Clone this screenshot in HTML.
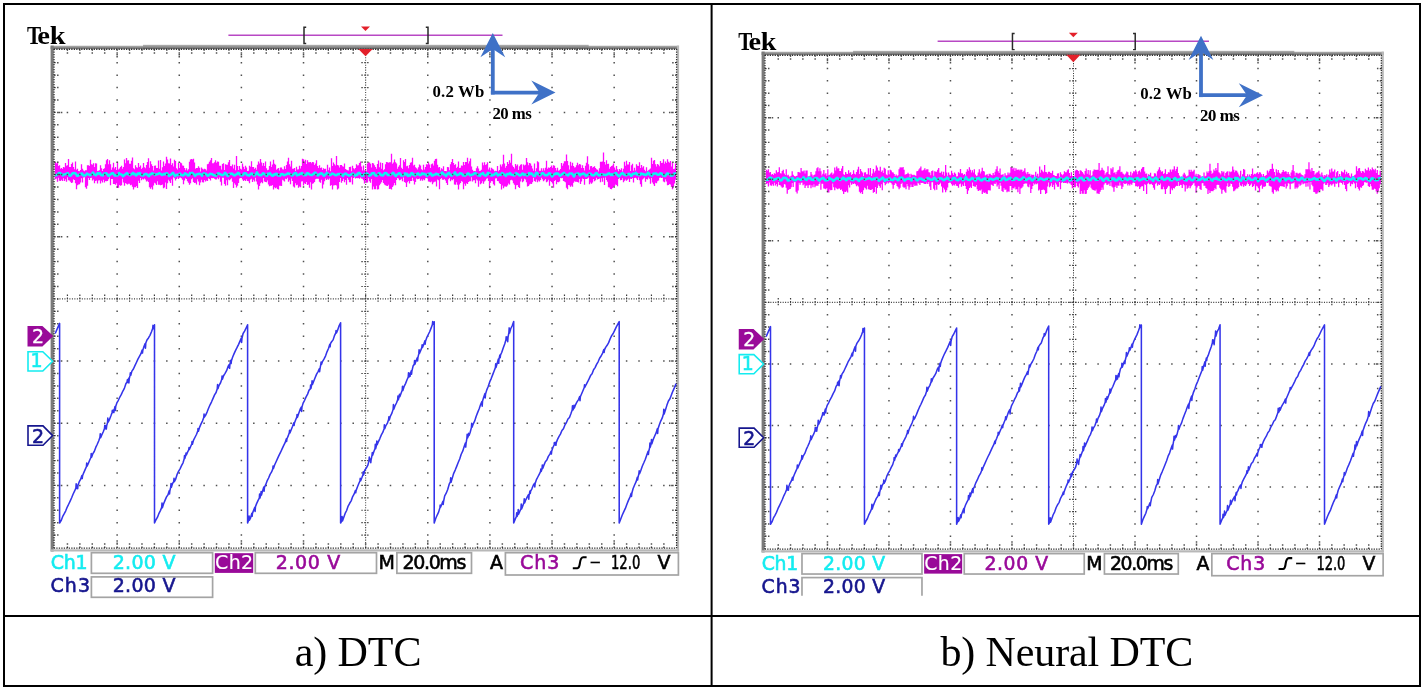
<!DOCTYPE html>
<html><head><meta charset="utf-8"><title>DTC vs Neural DTC oscilloscope traces</title>
<style>
html,body{margin:0;padding:0;background:#fff;}
body{width:1423px;height:690px;overflow:hidden;position:relative;}
svg{position:absolute;left:0;top:0;display:block;}
</style></head><body>
<svg width="1423" height="690" viewBox="0 0 1423 690">
<defs>
<linearGradient id="gt" x1="0" y1="0" x2="0" y2="1"><stop offset="0" stop-color="#b4b4b4"/><stop offset="1" stop-color="#666"/></linearGradient>
<clipPath id="cl"><rect x="5" y="5" width="705" height="610"/></clipPath>
<clipPath id="cr"><rect x="-2" y="-2" width="712" height="597.2"/></clipPath>
</defs>
<rect width="1423" height="690" fill="#fff"/>
<g clip-path="url(#cl)">
<text y="43.7" font-family="'Liberation Serif', 'Times New Roman', serif" font-weight="bold" font-size="25.6" fill="#000"><tspan x="27" textLength="14.2" lengthAdjust="spacingAndGlyphs">T</tspan><tspan x="37.3" textLength="12.7" lengthAdjust="spacingAndGlyphs">e</tspan><tspan x="49.7" textLength="15.8" lengthAdjust="spacingAndGlyphs">k</tspan></text>
<path d="M228.4 35.2H502.5" stroke="#b848c4" stroke-width="1.6"/>
<path d="M306.2 27.2H304V43.6H306.2M425.8 27.2H428V43.6H425.8" stroke="#2a2a2a" stroke-width="1.5" fill="none"/>
<path d="M361 26.6H370L365.5 31Z" fill="#e3202a"/>
<rect x="50.6" y="45.7" width="628.4" height="3.2" fill="url(#gt)"/>
<rect x="143" y="44.8" width="445.7" height="4.1" fill="url(#gt)"/>
<rect x="50.6" y="45.6" width="3.1" height="505.9" fill="#7a7a7a"/>
<rect x="676.9" y="45.6" width="2.2" height="505.9" fill="#b8b8b8"/>
<rect x="50.6" y="549.3" width="628.5" height="2.2" fill="#b8b8b8"/>
<path d="M55.5 162.18V179.28M56.5 163.59V178.46M57.5 161.64V181.82M58.5 165.89V177.78M59.5 165.31V180.65M60.5 168.74V181M61.5 167.92V179.68M62.5 168.93V181.12M63.5 166.89V178.16M64.5 167.48V180.92M65.5 163.08V179.26M66.5 165.79V181.74M67.5 165.2V177.36M68.5 158.99V180.29M69.5 166.88V180.48M70.5 167.07V181.87M71.5 163.89V183.06M72.5 162.4V182.61M73.5 167.04V179.34M74.5 169.22V179.91M75.5 161.47V183.17M76.5 169.66V189.2M77.5 168.75V185.35M78.5 171.06V184.62M79.5 171.14V184.3M80.5 169.96V182.59M81.5 164.37V178.25M82.5 168.74V182.47M83.5 170.51V177.46M84.5 171.35V177.32M85.5 170.21V187.13M86.5 170.19V188.85M87.5 165.29V185.8M88.5 165.37V177.96M89.5 166.05V179.99M90.5 159.85V178.08M91.5 164.32V177.73M92.5 164.68V180.6M93.5 163.26V179.47M94.5 167V183.3M95.5 163.35V181.08M96.5 163.39V180.47M97.5 171.1V183.4M98.5 170.72V180.61M99.5 170.19V180.2M100.5 165.28V183.52M101.5 168.34V180.68M102.5 171V182.55M103.5 168.93V179.64M104.5 168.33V182.57M105.5 164.29V180.99M106.5 160.28V181.21M107.5 158.91V181M108.5 164.14V179.34M109.5 160.25V177.6M110.5 164.3V185.13M111.5 169.84V178.97M112.5 167.52V179.08M113.5 162.64V183.96M114.5 168.52V184.02M115.5 166.93V184.73M116.5 169.95V183.27M117.5 161.79V187.91M118.5 169.53V187.8M119.5 168.6V184.89M120.5 167.1V185.73M121.5 165.69V185.28M122.5 168.68V178.79M123.5 166.99V182.49M124.5 159.39V185.7M125.5 163.26V182.96M126.5 158.09V183.8M127.5 160.59V184.57M128.5 160.22V183.77M129.5 163.83V183.78M130.5 163.79V185.34M131.5 160.75V184.71M132.5 157.42V186.75M133.5 168.17V189.4M134.5 169.19V187.24M135.5 165.33V187.31M136.5 167.3V186.05M137.5 167.85V187.98M138.5 163V180.71M139.5 166.93V182.97M140.5 165.54V177.92M141.5 168.96V180.15M142.5 167.79V178.87M143.5 162.92V179.44M144.5 167.32V178.61M145.5 168.31V179.59M146.5 165.08V181.56M147.5 161.99V180.64M148.5 158.27V181.93M149.5 167.65V187.19M150.5 161.3V188.71M151.5 164.22V187.36M152.5 165.98V189.4M153.5 170.51V185.53M154.5 165.86V182.81M155.5 165.41V183.54M156.5 168V184.98M157.5 167.99V181.13M158.5 160.41V184.7M159.5 168.84V184.82M160.5 159.88V185.28M161.5 170.41V185.06M162.5 167.18V184.51M163.5 161.44V188.27M164.5 165.92V187.45M165.5 163.44V182.47M166.5 156.67V189.06M167.5 159.43V183.3M168.5 163.32V179.83M169.5 163.45V181.25M170.5 158.42V183M171.5 165.04V179.51M172.5 163.26V185.66M173.5 166.6V177.28M174.5 159.78V178.3M175.5 160.9V180.58M176.5 168.29V179.09M177.5 169.5V177.62M178.5 162.94V178.93M179.5 167.97V177.77M180.5 162.39V177.57M181.5 163.31V178.34M182.5 165.38V179.81M183.5 165.71V184.23M184.5 167.92V180.45M185.5 170.28V178.29M186.5 168.32V179.01M187.5 170.62V181.3M188.5 169.37V182.67M189.5 161.7V184.69M190.5 159.46V183.21M191.5 158.89V179.32M192.5 159.59V178.18M193.5 158.76V181.99M194.5 162.41V183.01M195.5 168.78V182.72M196.5 167.97V184.6M197.5 167.91V179.28M198.5 166.2V181.59M199.5 167.82V185.17M200.5 171.53V182.53M201.5 167.6V179.78M202.5 168.82V182.28M203.5 169.5V182.45M204.5 168.69V179.96M205.5 169.35V181.45M206.5 170.42V180.57M207.5 164.2V181.11M208.5 163.78V178.18M209.5 161.86V178.92M210.5 160.19V180.45M211.5 158.07V178.04M212.5 163.37V178.37M213.5 163.18V178.08M214.5 162.19V178.83M215.5 160.28V179.44M216.5 162.76V179.39M217.5 161.56V177.71M218.5 161.75V179.31M219.5 165.65V177.39M220.5 165.79V181.78M221.5 169.47V185.39M222.5 163.9V177.68M223.5 163.31V177.67M224.5 169.96V184.11M225.5 164.19V185.67M226.5 164.87V180.34M227.5 164.83V185.23M228.5 162.26V179.56M229.5 159.96V180.24M230.5 166.01V179.3M231.5 166.23V178.17M232.5 164.55V181.87M233.5 168.55V187.92M234.5 164.76V183.15M235.5 170.17V184.84M236.5 156.08V187.57M237.5 165.98V185.73M238.5 170.12V182.91M239.5 165.93V178.43M240.5 168.7V177.93M241.5 169.44V177.96M242.5 163.59V179.56M243.5 166.73V181.06M244.5 168.93V180.11M245.5 165.85V180.93M246.5 167.53V179.33M247.5 170.93V181.1M248.5 170.68V181.31M249.5 165.66V183.19M250.5 166.8V179.52M251.5 161.22V178.82M252.5 166.92V182.08M253.5 166.95V179.77M254.5 168.93V181.46M255.5 167.68V177.82M256.5 169.87V181.46M257.5 164.87V184.47M258.5 161.55V189.4M259.5 163.52V185.93M260.5 158.98V183.32M261.5 162.38V182.12M262.5 165.75V183.36M263.5 163.01V177.89M264.5 165.9V181.44M265.5 161.5V181.94M266.5 168.37V182.14M267.5 170.3V180.46M268.5 169.67V184.52M269.5 165.91V186.31M270.5 161.52V185.66M271.5 167.06V185.84M272.5 164.38V184.92M273.5 159.83V189.4M274.5 163.78V187.15M275.5 164.69V188.3M276.5 169.75V187.59M277.5 168.72V188.99M278.5 168.12V189.4M279.5 170.4V185.73M280.5 167.51V185.71M281.5 167.59V185.95M282.5 169.18V179.87M283.5 169.58V180.42M284.5 166.32V181.45M285.5 168.93V178.85M286.5 164.91V179.35M287.5 161.46V177.79M288.5 157.84V181.74M289.5 164.19V180.19M290.5 166.57V184.3M291.5 160.71V178.39M292.5 168.7V181.05M293.5 168.82V186.38M294.5 167.97V187.54M295.5 171V183.28M296.5 166.82V185.15M297.5 169.57V184.77M298.5 169.33V187.68M299.5 165.8V186.55M300.5 168.56V187.23M301.5 166V181.43M302.5 158.8V181.27M303.5 159.33V185.52M304.5 161.47V183.36M305.5 159.79V183.93M306.5 163.96V182.07M307.5 160.2V185M308.5 162.34V184.51M309.5 162.16V187.7M310.5 162.07V182.15M311.5 163.31V189.4M312.5 161.95V183.87M313.5 162.3V183.16M314.5 165.06V181.93M315.5 163.56V179.35M316.5 160.2V178.75M317.5 165.98V178.76M318.5 167.95V178.77M319.5 165.33V181.74M320.5 167.9V182.67M321.5 167.52V179.87M322.5 169.9V188.4M323.5 168.36V184.5M324.5 169.12V181.36M325.5 168.81V178.56M326.5 171.56V179.94M327.5 164.81V178.75M328.5 170.16V179.63M329.5 167.46V178.48M330.5 171.14V185.83M331.5 158.2V184.98M332.5 166.11V189.4M333.5 162.4V185.52M334.5 164.14V185.19M335.5 165.5V184.99M336.5 156.12V185.53M337.5 165.08V189.4M338.5 165.4V188.51M339.5 167.38V181.98M340.5 164.91V177.89M341.5 164.91V182.71M342.5 166.33V181.01M343.5 166.74V178.67M344.5 163.6V182.25M345.5 168.99V179.97M346.5 169.85V184.78M347.5 170.35V178.04M348.5 170.41V179.74M349.5 167.02V182.18M350.5 166.7V182.22M351.5 171.29V177.31M352.5 165.66V184.53M353.5 168.24V178.11M354.5 169.32V177.28M355.5 167.98V178.44M356.5 164.29V177.96M357.5 165.43V178.28M358.5 165.36V178.09M359.5 163.05V178.73M360.5 161.49V177.55M361.5 166.47V178.56M362.5 170.44V178.77M363.5 165.5V180.22M364.5 170.44V183.53M365.5 170.29V180.7M366.5 171.14V182.69M367.5 163.5V182.51M368.5 162.33V178.32M369.5 162.45V181.3M370.5 163.87V182.75M371.5 167.39V178.95M372.5 163.01V189.4M373.5 163.59V186.53M374.5 165.19V189.18M375.5 167.09V189.28M376.5 168.85V185.74M377.5 163.92V189.4M378.5 160.62V189.15M379.5 167.35V185.27M380.5 162.46V183.74M381.5 168.71V182.21M382.5 162.96V179.95M383.5 170.26V183.1M384.5 169.31V184.55M385.5 164.27V185.3M386.5 161.99V185.75M387.5 162.19V186.11M388.5 162.7V184.87M389.5 162.23V189M390.5 162.27V188.86M391.5 153.67V189.4M392.5 163.83V187.07M393.5 162.45V185.48M394.5 159.55V182.95M395.5 162.33V185.2M396.5 163.51V179.9M397.5 168.67V178.11M398.5 166.66V178.45M399.5 165.15V180.37M400.5 157.9V179.87M401.5 167.64V178.82M402.5 169.08V181.35M403.5 160.29V177.54M404.5 161.91V181.97M405.5 159.07V182.82M406.5 166.36V187.12M407.5 165.65V182.24M408.5 168.14V180.9M409.5 164.88V183.46M410.5 162.81V180.92M411.5 162.17V180.99M412.5 157.73V177.81M413.5 165.52V180.73M414.5 164.71V184.48M415.5 167.25V182.09M416.5 168.17V178.43M417.5 169.47V179.28M418.5 167.19V179.09M419.5 164.47V178.48M420.5 165.57V180.79M421.5 169.18V179.34M422.5 170.15V180.77M423.5 164.79V179.18M424.5 169.61V180.14M425.5 166.92V178.19M426.5 164.31V177.88M427.5 164.4V178.42M428.5 162.41V181.54M429.5 164.57V181.71M430.5 168.08V182.17M431.5 164.19V181.45M432.5 163.38V184.3M433.5 165.53V182.52M434.5 160.84V181.71M435.5 159.11V181.48M436.5 158.76V186.46M437.5 164.68V179.58M438.5 167.47V180.15M439.5 166.99V189.35M440.5 170.54V179M441.5 168.13V177.95M442.5 169.19V179.69M443.5 166.19V179.66M444.5 170.97V179.1M445.5 171V180.46M446.5 171.15V183.01M447.5 166.93V185.04M448.5 167.2V179.2M449.5 170.13V178.09M450.5 164.24V181.17M451.5 162.07V179.52M452.5 159.05V180.3M453.5 163.03V178.91M454.5 165.01V184.53M455.5 164.18V184.76M456.5 167.89V182.17M457.5 166.78V184.69M458.5 161.49V189.4M459.5 168.04V184.46M460.5 167.82V182.91M461.5 165.54V181.05M462.5 165.8V181.66M463.5 162.03V189.34M464.5 164.97V183.83M465.5 161.97V185.66M466.5 161.92V183.26M467.5 157.83V183.89M468.5 163.44V182.03M469.5 161.28V181.19M470.5 158.51V181.3M471.5 166.48V177.37M472.5 169.75V181.44M473.5 171.34V180.17M474.5 170.92V180.37M475.5 171.35V183.26M476.5 168.31V179.35M477.5 166.28V180.53M478.5 168.5V186.8M479.5 170.92V180.66M480.5 170.85V184.15M481.5 169.81V183.19M482.5 162.39V181.2M483.5 165.32V183.66M484.5 162.23V181.57M485.5 164.99V180.4M486.5 164.21V178.83M487.5 162.22V178.18M488.5 169.59V181.08M489.5 167.47V188.27M490.5 170.42V182.82M491.5 167.84V181.07M492.5 168.74V181.25M493.5 169.42V184.3M494.5 171.28V185.44M495.5 170.73V178.56M496.5 170.89V178.35M497.5 165.9V181.09M498.5 171.13V181.15M499.5 169.89V183.32M500.5 164.62V184.01M501.5 166.39V189.4M502.5 164.14V185.55M503.5 154.65V188.31M504.5 163.61V186.54M505.5 167.79V186.49M506.5 166.03V186.74M507.5 162.04V185.49M508.5 164.04V183.43M509.5 160.14V184.59M510.5 162.8V180.29M511.5 153.66V179.74M512.5 165.58V180.46M513.5 166.91V183.16M514.5 168.39V184.76M515.5 164.02V189.25M516.5 165.79V185.29M517.5 164.53V184.94M518.5 170.09V186.93M519.5 166.36V188.05M520.5 164.87V181.62M521.5 164.22V178.66M522.5 169.68V182.32M523.5 164.43V181.24M524.5 165.41V178.73M525.5 164.65V179.4M526.5 157.97V182.17M527.5 162.32V186.59M528.5 165.36V185.89M529.5 163.12V184.6M530.5 163.62V183.63M531.5 165.83V183.9M532.5 168.48V182.35M533.5 170.68V177.81M534.5 163.53V180.9M535.5 171.28V181.66M536.5 168.17V179.57M537.5 161.29V182.21M538.5 162.37V180.55M539.5 170.82V181.47M540.5 170.76V179.89M541.5 168.25V177.83M542.5 170.87V179.26M543.5 168.37V181.29M544.5 170.45V180.14M545.5 167.63V178.91M546.5 160.68V182.34M547.5 168.73V181.45M548.5 167.42V179.7M549.5 168.1V185.81M550.5 166.89V181.08M551.5 165.54V181.93M552.5 167.85V183.54M553.5 165.35V187.63M554.5 165.71V180.99M555.5 168.02V180.07M556.5 170.56V184.24M557.5 167.76V182.11M558.5 170.75V182.2M559.5 170.17V181.5M560.5 169.06V177.92M561.5 163.1V178.32M562.5 165.68V177.91M563.5 163.53V181.07M564.5 161.3V181.61M565.5 161.19V182.21M566.5 154.45V187.7M567.5 161.01V189.14M568.5 165.17V185.01M569.5 169.59V185.32M570.5 161.67V186.82M571.5 165.73V185.61M572.5 162.66V186.78M573.5 166.08V182.8M574.5 167.4V181.34M575.5 167.28V181.65M576.5 165.18V181.66M577.5 162.63V181.96M578.5 165.17V182.4M579.5 164.09V179.05M580.5 164.43V184M581.5 167.88V181.62M582.5 165.22V178.44M583.5 168.03V179.11M584.5 170.49V184.64M585.5 165.81V179.1M586.5 162.85V178.91M587.5 156.25V178.49M588.5 164.3V177.6M589.5 169.71V184.18M590.5 166.26V182.56M591.5 166.03V183.84M592.5 167.87V182.51M593.5 166.91V179.08M594.5 166.17V181.2M595.5 168.01V180.21M596.5 169.22V177.74M597.5 169.86V179.57M598.5 171.38V178.89M599.5 168.25V178.46M600.5 161.71V182.13M601.5 161.76V178.32M602.5 161.5V181.81M603.5 152.53V177.69M604.5 161.95V184.89M605.5 164.42V177.4M606.5 160.13V179.99M607.5 164.03V181.64M608.5 163.75V187.36M609.5 168.81V187.6M610.5 167.03V189.08M611.5 165.92V189.2M612.5 165.55V187.98M613.5 163.42V186.76M614.5 167.5V186.08M615.5 169.77V184.42M616.5 165.9V184.9M617.5 169.31V186.19M618.5 171.28V178.99M619.5 168.95V177.98M620.5 170.04V180.29M621.5 168.13V180.07M622.5 171.41V178.25M623.5 168.78V182.31M624.5 161.82V180.66M625.5 165.87V179.41M626.5 160.76V180.74M627.5 164.46V179.63M628.5 164.58V178.74M629.5 161.88V182.09M630.5 170.95V178.87M631.5 165.37V179.05M632.5 163.87V177.93M633.5 170.8V182.52M634.5 167.86V177.98M635.5 170.45V177.77M636.5 164.17V178.41M637.5 165.67V179.89M638.5 165.89V177.62M639.5 162.37V180.26M640.5 168.1V184.32M641.5 165.01V186.77M642.5 167.56V179.42M643.5 166.36V178.56M644.5 169.86V177.59M645.5 171.2V181.69M646.5 167.14V179M647.5 170.89V179.55M648.5 170.26V177.48M649.5 169.54V178.79M650.5 168.54V183.69M651.5 157.85V178.09M652.5 164.04V182.48M653.5 160.72V184.15M654.5 160.07V185.95M655.5 164.22V182.71M656.5 166.43V183.2M657.5 163.89V181.24M658.5 164.7V180.47M659.5 166.19V177.64M660.5 161V177.51M661.5 162.96V178.1M662.5 162.83V177.81M663.5 159.29V181.42M664.5 163.7V182.29M665.5 161.59V179.33M666.5 163.02V181.5M667.5 159.31V185.25M668.5 161.75V185.07M669.5 162.83V183.91M670.5 161.1V184.43M671.5 166.44V186.92M672.5 162.6V189.14M673.5 168.99V186.83M674.5 168.8V183.57M675.5 163.44V179.69" stroke="#ff08ff" stroke-width="1.3"/>
<path d="M55 174.99 56 175.15 57 174.96 58 173.72 59 173.1 60 172.94 61 173.65 62 174.64 63 175.45 64 174.48 65 174.37 66 173.97 67 173.46 68 173.21 69 175.23 70 175.82 71 175.37 72 173.82 73 172.93 74 173.33 75 173.07 76 174.02 77 175.75 78 175.71 79 175.04 80 174.22 81 173.78 82 173.43 83 175.38 84 175.49 85 175.53 86 174.85 87 173.53 88 174.1 89 174.59 90 175.26 91 174.83 92 173.87 93 172.55 94 174.03 95 174.85 96 175.26 97 173.9 98 172.99 99 173.62 100 173.1 101 175.07 102 175.13 103 175.43 104 173.79 105 173.46 106 173.22 107 173.74 108 175.49 109 175.89 110 174.69 111 174.2 112 173.29 113 173.12 114 174.6 115 175.69 116 175.29 117 175.57 118 175.03 119 172.96 120 174.1 121 174.43 122 174.95 123 176.22 124 175.28 125 174.69 126 173.7 127 173.09 128 174.11 129 174.57 130 175.27 131 174.48 132 173.88 133 172.81 134 174.24 135 174.07 136 175.53 137 174.74 138 173.37 139 173.71 140 173.08 141 175.11 142 175.25 143 175.62 144 174.75 145 173.92 146 173.82 147 174.37 148 175.49 149 176.14 150 174.26 151 174.37 152 173.2 153 173.61 154 174.01 155 175.05 156 174.49 157 174.2 158 173.95 159 173.28 160 173.53 161 174.19 162 175 163 174.62 164 173.89 165 174.53 166 173.42 167 173.22 168 174.78 169 176.04 170 175.16 171 174.69 172 173.43 173 172.75 174 174.18 175 176.21 176 175.06 177 174.72 178 175.26 179 174.07 180 173.56 181 175.06 182 175.07 183 175.48 184 174.91 185 173.26 186 173.89 187 174.48 188 175.59 189 175.26 190 173.05 191 173.46 192 172.78 193 173.56 194 174.41 195 175.87 196 175.01 197 174.15 198 173.95 199 173.72 200 174.05 201 174.37 202 175.74 203 174.29 204 173.2 205 173.81 206 173.86 207 175.3 208 175.79 209 174.96 210 173.73 211 174 212 173.88 213 175.04 214 175.07 215 175.59 216 175.73 217 174.35 218 173.37 219 173.39 220 174.15 221 174.68 222 175.13 223 175.27 224 174.11 225 172.78 226 173.64 227 175.42 228 175.99 229 174.39 230 173.8 231 173.71 232 173.5 233 174.55 234 175.25 235 175.49 236 174.49 237 174.18 238 172.84 239 173.38 240 174.81 241 175.35 242 175.45 243 175.02 244 173.46 245 173.09 246 173.43 247 174.97 248 175.25 249 175.65 250 174.58 251 173.63 252 173.44 253 174.66 254 175.49 255 175.13 256 173.96 257 172.35 258 174.15 259 174.96 260 175.16 261 175.38 262 174.57 263 173.24 264 173.7 265 174.3 266 175.6 267 175.83 268 173.62 269 173.91 270 173.15 271 174.62 272 175.49 273 175.83 274 174.38 275 174.71 276 173.56 277 173.93 278 175.56 279 174.87 280 175.9 281 174.23 282 173.94 283 174.3 284 175.23 285 174.89 286 174.48 287 174.01 288 173.23 289 173.77 290 174.06 291 174.93 292 175.61 293 175.08 294 173.8 295 172.91 296 173.03 297 175.43 298 174.98 299 174.8 300 173.82 301 173.8 302 173.12 303 174.43 304 175.31 305 174.93 306 175.08 307 173.17 308 173.25 309 173.97 310 174.74 311 174.98 312 175.14 313 174.29 314 173.62 315 172.5 316 173.31 317 175.16 318 175.44 319 174.56 320 173.92 321 173.23 322 173.37 323 174.88 324 175.79 325 174.97 326 173.84 327 172.83 328 173.93 329 174.53 330 175.17 331 174.61 332 173.49 333 173.82 334 174.18 335 175.14 336 175.35 337 174.8 338 174 339 174.17 340 173.82 341 174.25 342 174.83 343 176.05 344 174.25 345 173.69 346 173.53 347 174.6 348 174.88 349 175.7 350 175.33 351 174.57 352 173.97 353 173.52 354 174.6 355 175.79 356 174.81 357 174.99 358 173.3 359 172.8 360 173.54 361 174.52 362 175.87 363 175.53 364 174.47 365 174.09 366 173.33 367 173.51 368 174.05 369 175.73 370 175.52 371 174.96 372 173.25 373 173.18 374 172.94 375 175.01 376 175.69 377 175.59 378 174.15 379 173.3 380 173.39 381 175.26 382 175.23 383 175.45 384 174.11 385 172.91 386 172.88 387 174.06 388 175.3 389 174.92 390 175.1 391 174.47 392 173.61 393 172.68 394 173.43 395 175.51 396 176.07 397 174.68 398 174.01 399 173.21 400 173.42 401 175.39 402 175.25 403 175.58 404 174.66 405 173.26 406 174.46 407 173.8 408 175.83 409 175.26 410 175.62 411 173.57 412 172.95 413 174.69 414 174.53 415 175.64 416 174.2 417 174.43 418 173.29 419 174.45 420 175.26 421 174.9 422 173.32 423 174.15 424 173.77 425 174.19 426 175.23 427 175.91 428 173.8 429 174.44 430 173.25 431 173.63 432 175.62 433 175.54 434 174.8 435 174.57 436 173.62 437 174.14 438 174.29 439 175 440 175.21 441 173.68 442 172.43 443 173.38 444 174.59 445 174.79 446 176.06 447 174.51 448 173.47 449 172.79 450 174.38 451 175.41 452 175.46 453 174.16 454 173.95 455 172.36 456 174.4 457 175.28 458 174.76 459 174.54 460 173.22 461 173.49 462 173.78 463 175.42 464 175.08 465 175.77 466 174.56 467 174.51 468 173.24 469 173.77 470 175.33 471 175.28 472 174.67 473 174.52 474 173.65 475 173.01 476 173.36 477 174.3 478 175.45 479 174.86 480 175.79 481 173.89 482 173.74 483 173.02 484 174.8 485 175.39 486 175.74 487 174.7 488 172.8 489 173.85 490 173.43 491 175.38 492 175.41 493 174.81 494 174.95 495 173.68 496 172.89 497 173.84 498 175.5 499 174.8 500 174.6 501 175.01 502 173 503 173.55 504 174.41 505 175.3 506 175.9 507 174.05 508 174.07 509 174.16 510 172.95 511 174.51 512 174.8 513 174.94 514 175.54 515 174.97 516 173.14 517 173.62 518 174.07 519 175.07 520 175.53 521 175.09 522 173.81 523 173.48 524 174.96 525 174.39 526 174.62 527 175.67 528 174.77 529 173.18 530 174.09 531 173.25 532 173.82 533 175.45 534 175.77 535 175.95 536 172.89 537 172.79 538 173.89 539 174.71 540 175.45 541 174.61 542 173.16 543 173.12 544 174.09 545 175.14 546 175.2 547 175.18 548 174.41 549 173.23 550 173.39 551 174.58 552 176.49 553 175.56 554 174.48 555 174.17 556 173.2 557 173.91 558 173.54 559 174.87 560 175.76 561 175.07 562 174.22 563 173.75 564 172.87 565 174.3 566 174.64 567 174.91 568 175.51 569 174 570 173.41 571 173.61 572 173.62 573 175.15 574 176.52 575 174.71 576 174.04 577 173.66 578 173.38 579 174.07 580 175.48 581 174.1 582 174.31 583 173.62 584 173.62 585 174.51 586 175.9 587 175.22 588 174.89 589 173.7 590 173.55 591 174 592 175.23 593 175.14 594 175.46 595 174.44 596 173.02 597 173.29 598 174.69 599 175.48 600 175.2 601 174.14 602 174.19 603 174.53 604 174.74 605 175.21 606 174.83 607 174.67 608 173.71 609 173.35 610 174.14 611 175.1 612 174.34 613 175.09 614 174.14 615 173.35 616 172.98 617 174.52 618 175.33 619 176.33 620 175.35 621 174.03 622 173.32 623 173.22 624 174.69 625 174.84 626 175.39 627 174.95 628 174.13 629 173.77 630 174.28 631 175.81 632 175.35 633 173.67 634 173.82 635 173.34 636 172.8 637 174.51 638 174.19 639 175.17 640 175.01 641 173.49 642 173.91 643 174.05 644 174.81 645 174.59 646 175.14 647 174.15 648 172.65 649 173.52 650 174.97 651 175.02 652 175.66 653 174.13 654 173.42 655 173.64 656 173.37 657 174.37 658 174.85 659 174.69 660 173.48 661 173.26 662 173.81 663 175.42 664 175.17 665 176.15 666 175.05 667 173.6 668 173.57 669 174.11 670 174.86 671 175.67 672 175.41 673 175.36 674 173.76 675 173.4 676 173.66" stroke="#12f0f4" stroke-width="2.5" fill="none" stroke-linejoin="round"/>
<path d="M53.8 49.27H676.7M53.8 548.05H676.7" stroke="#2e2e2e" stroke-width="1.3" stroke-dasharray="1.3 1.19"/>
<path d="M54 49.07V548.05M676.6 49.07V548.05" stroke="#2e2e2e" stroke-width="1.3" stroke-dasharray="1.3 1.19"/>
<path d="M67.43 49.27v1.6M67.43 548.05v-1.6M79.85 49.27v1.6M79.85 548.05v-1.6M92.28 49.27v1.6M92.28 548.05v-1.6M104.7 49.27v1.6M104.7 548.05v-1.6M117.13 49.27v1.6M117.13 548.05v-1.6M129.56 49.27v1.6M129.56 548.05v-1.6M141.98 49.27v1.6M141.98 548.05v-1.6M154.41 49.27v1.6M154.41 548.05v-1.6M166.83 49.27v1.6M166.83 548.05v-1.6M179.26 49.27v1.6M179.26 548.05v-1.6M191.69 49.27v1.6M191.69 548.05v-1.6M204.11 49.27v1.6M204.11 548.05v-1.6M216.54 49.27v1.6M216.54 548.05v-1.6M228.96 49.27v1.6M228.96 548.05v-1.6M241.39 49.27v1.6M241.39 548.05v-1.6M253.82 49.27v1.6M253.82 548.05v-1.6M266.24 49.27v1.6M266.24 548.05v-1.6M278.67 49.27v1.6M278.67 548.05v-1.6M291.09 49.27v1.6M291.09 548.05v-1.6M303.52 49.27v1.6M303.52 548.05v-1.6M315.95 49.27v1.6M315.95 548.05v-1.6M328.37 49.27v1.6M328.37 548.05v-1.6M340.8 49.27v1.6M340.8 548.05v-1.6M353.22 49.27v1.6M353.22 548.05v-1.6M365.65 49.27v1.6M365.65 548.05v-1.6M378.08 49.27v1.6M378.08 548.05v-1.6M390.5 49.27v1.6M390.5 548.05v-1.6M402.93 49.27v1.6M402.93 548.05v-1.6M415.35 49.27v1.6M415.35 548.05v-1.6M427.78 49.27v1.6M427.78 548.05v-1.6M440.21 49.27v1.6M440.21 548.05v-1.6M452.63 49.27v1.6M452.63 548.05v-1.6M465.06 49.27v1.6M465.06 548.05v-1.6M477.48 49.27v1.6M477.48 548.05v-1.6M489.91 49.27v1.6M489.91 548.05v-1.6M502.34 49.27v1.6M502.34 548.05v-1.6M514.76 49.27v1.6M514.76 548.05v-1.6M527.19 49.27v1.6M527.19 548.05v-1.6M539.61 49.27v1.6M539.61 548.05v-1.6M552.04 49.27v1.6M552.04 548.05v-1.6M564.47 49.27v1.6M564.47 548.05v-1.6M576.89 49.27v1.6M576.89 548.05v-1.6M589.32 49.27v1.6M589.32 548.05v-1.6M601.74 49.27v1.6M601.74 548.05v-1.6M614.17 49.27v1.6M614.17 548.05v-1.6M626.6 49.27v1.6M626.6 548.05v-1.6M639.02 49.27v1.6M639.02 548.05v-1.6M651.45 49.27v1.6M651.45 548.05v-1.6M663.87 49.27v1.6M663.87 548.05v-1.6M54 62.7h1.6M676.6 62.7h-1.6M54 75.13h1.6M676.6 75.13h-1.6M54 87.57h1.6M676.6 87.57h-1.6M54 100h1.6M676.6 100h-1.6M54 112.43h1.6M676.6 112.43h-1.6M54 124.86h1.6M676.6 124.86h-1.6M54 137.29h1.6M676.6 137.29h-1.6M54 149.73h1.6M676.6 149.73h-1.6M54 162.16h1.6M676.6 162.16h-1.6M54 174.59h1.6M676.6 174.59h-1.6M54 187.02h1.6M676.6 187.02h-1.6M54 199.45h1.6M676.6 199.45h-1.6M54 211.89h1.6M676.6 211.89h-1.6M54 224.32h1.6M676.6 224.32h-1.6M54 236.75h1.6M676.6 236.75h-1.6M54 249.18h1.6M676.6 249.18h-1.6M54 261.61h1.6M676.6 261.61h-1.6M54 274.05h1.6M676.6 274.05h-1.6M54 286.48h1.6M676.6 286.48h-1.6M54 298.91h1.6M676.6 298.91h-1.6M54 311.34h1.6M676.6 311.34h-1.6M54 323.77h1.6M676.6 323.77h-1.6M54 336.21h1.6M676.6 336.21h-1.6M54 348.64h1.6M676.6 348.64h-1.6M54 361.07h1.6M676.6 361.07h-1.6M54 373.5h1.6M676.6 373.5h-1.6M54 385.93h1.6M676.6 385.93h-1.6M54 398.37h1.6M676.6 398.37h-1.6M54 410.8h1.6M676.6 410.8h-1.6M54 423.23h1.6M676.6 423.23h-1.6M54 435.66h1.6M676.6 435.66h-1.6M54 448.09h1.6M676.6 448.09h-1.6M54 460.53h1.6M676.6 460.53h-1.6M54 472.96h1.6M676.6 472.96h-1.6M54 485.39h1.6M676.6 485.39h-1.6M54 497.82h1.6M676.6 497.82h-1.6M54 510.25h1.6M676.6 510.25h-1.6M54 522.69h1.6M676.6 522.69h-1.6M54 535.12h1.6M676.6 535.12h-1.6" stroke="#2e2e2e" stroke-width="1.3"/>
<path d="M66.68 53.07h1.5M66.68 543.95h1.5M79.1 53.07h1.5M79.1 543.95h1.5M91.53 53.07h1.5M91.53 543.95h1.5M103.95 53.07h1.5M103.95 543.95h1.5M116.38 53.07h1.5M116.38 543.95h1.5M128.81 53.07h1.5M128.81 543.95h1.5M141.23 53.07h1.5M141.23 543.95h1.5M153.66 53.07h1.5M153.66 543.95h1.5M166.08 53.07h1.5M166.08 543.95h1.5M178.51 53.07h1.5M178.51 543.95h1.5M190.94 53.07h1.5M190.94 543.95h1.5M203.36 53.07h1.5M203.36 543.95h1.5M215.79 53.07h1.5M215.79 543.95h1.5M228.21 53.07h1.5M228.21 543.95h1.5M240.64 53.07h1.5M240.64 543.95h1.5M253.07 53.07h1.5M253.07 543.95h1.5M265.49 53.07h1.5M265.49 543.95h1.5M277.92 53.07h1.5M277.92 543.95h1.5M290.34 53.07h1.5M290.34 543.95h1.5M302.77 53.07h1.5M302.77 543.95h1.5M315.2 53.07h1.5M315.2 543.95h1.5M327.62 53.07h1.5M327.62 543.95h1.5M340.05 53.07h1.5M340.05 543.95h1.5M352.47 53.07h1.5M352.47 543.95h1.5M364.9 53.07h1.5M364.9 543.95h1.5M377.33 53.07h1.5M377.33 543.95h1.5M389.75 53.07h1.5M389.75 543.95h1.5M402.18 53.07h1.5M402.18 543.95h1.5M414.6 53.07h1.5M414.6 543.95h1.5M427.03 53.07h1.5M427.03 543.95h1.5M439.46 53.07h1.5M439.46 543.95h1.5M451.88 53.07h1.5M451.88 543.95h1.5M464.31 53.07h1.5M464.31 543.95h1.5M476.73 53.07h1.5M476.73 543.95h1.5M489.16 53.07h1.5M489.16 543.95h1.5M501.59 53.07h1.5M501.59 543.95h1.5M514.01 53.07h1.5M514.01 543.95h1.5M526.44 53.07h1.5M526.44 543.95h1.5M538.86 53.07h1.5M538.86 543.95h1.5M551.29 53.07h1.5M551.29 543.95h1.5M563.72 53.07h1.5M563.72 543.95h1.5M576.14 53.07h1.5M576.14 543.95h1.5M588.57 53.07h1.5M588.57 543.95h1.5M600.99 53.07h1.5M600.99 543.95h1.5M613.42 53.07h1.5M613.42 543.95h1.5M625.85 53.07h1.5M625.85 543.95h1.5M638.27 53.07h1.5M638.27 543.95h1.5M650.7 53.07h1.5M650.7 543.95h1.5M663.12 53.07h1.5M663.12 543.95h1.5M57.05 62.7h1.5M672.15 62.7h1.5M57.05 75.13h1.5M672.15 75.13h1.5M57.05 87.57h1.5M672.15 87.57h1.5M57.05 100h1.5M672.15 100h1.5M57.05 112.43h1.5M672.15 112.43h1.5M57.05 124.86h1.5M672.15 124.86h1.5M57.05 137.29h1.5M672.15 137.29h1.5M57.05 149.73h1.5M672.15 149.73h1.5M57.05 162.16h1.5M672.15 162.16h1.5M57.05 174.59h1.5M672.15 174.59h1.5M57.05 187.02h1.5M672.15 187.02h1.5M57.05 199.45h1.5M672.15 199.45h1.5M57.05 211.89h1.5M672.15 211.89h1.5M57.05 224.32h1.5M672.15 224.32h1.5M57.05 236.75h1.5M672.15 236.75h1.5M57.05 249.18h1.5M672.15 249.18h1.5M57.05 261.61h1.5M672.15 261.61h1.5M57.05 274.05h1.5M672.15 274.05h1.5M57.05 286.48h1.5M672.15 286.48h1.5M57.05 298.91h1.5M672.15 298.91h1.5M57.05 311.34h1.5M672.15 311.34h1.5M57.05 323.77h1.5M672.15 323.77h1.5M57.05 336.21h1.5M672.15 336.21h1.5M57.05 348.64h1.5M672.15 348.64h1.5M57.05 361.07h1.5M672.15 361.07h1.5M57.05 373.5h1.5M672.15 373.5h1.5M57.05 385.93h1.5M672.15 385.93h1.5M57.05 398.37h1.5M672.15 398.37h1.5M57.05 410.8h1.5M672.15 410.8h1.5M57.05 423.23h1.5M672.15 423.23h1.5M57.05 435.66h1.5M672.15 435.66h1.5M57.05 448.09h1.5M672.15 448.09h1.5M57.05 460.53h1.5M672.15 460.53h1.5M57.05 472.96h1.5M672.15 472.96h1.5M57.05 485.39h1.5M672.15 485.39h1.5M57.05 497.82h1.5M672.15 497.82h1.5M57.05 510.25h1.5M672.15 510.25h1.5M57.05 522.69h1.5M672.15 522.69h1.5M57.05 535.12h1.5M672.15 535.12h1.5M116.38 62.7h1.5M116.38 75.13h1.5M116.38 87.57h1.5M116.38 100h1.5M116.38 112.43h1.5M116.38 124.86h1.5M116.38 137.29h1.5M116.38 149.73h1.5M116.38 162.16h1.5M116.38 174.59h1.5M116.38 187.02h1.5M116.38 199.45h1.5M116.38 211.89h1.5M116.38 224.32h1.5M116.38 236.75h1.5M116.38 249.18h1.5M116.38 261.61h1.5M116.38 274.05h1.5M116.38 286.48h1.5M116.38 298.91h1.5M116.38 311.34h1.5M116.38 323.77h1.5M116.38 336.21h1.5M116.38 348.64h1.5M116.38 361.07h1.5M116.38 373.5h1.5M116.38 385.93h1.5M116.38 398.37h1.5M116.38 410.8h1.5M116.38 423.23h1.5M116.38 435.66h1.5M116.38 448.09h1.5M116.38 460.53h1.5M116.38 472.96h1.5M116.38 485.39h1.5M116.38 497.82h1.5M116.38 510.25h1.5M116.38 522.69h1.5M116.38 535.12h1.5M116.38 54.67h1.5M116.38 543.15h1.5M116.38 56.87h1.5M116.38 540.95h1.5M178.51 62.7h1.5M178.51 75.13h1.5M178.51 87.57h1.5M178.51 100h1.5M178.51 112.43h1.5M178.51 124.86h1.5M178.51 137.29h1.5M178.51 149.73h1.5M178.51 162.16h1.5M178.51 174.59h1.5M178.51 187.02h1.5M178.51 199.45h1.5M178.51 211.89h1.5M178.51 224.32h1.5M178.51 236.75h1.5M178.51 249.18h1.5M178.51 261.61h1.5M178.51 274.05h1.5M178.51 286.48h1.5M178.51 298.91h1.5M178.51 311.34h1.5M178.51 323.77h1.5M178.51 336.21h1.5M178.51 348.64h1.5M178.51 361.07h1.5M178.51 373.5h1.5M178.51 385.93h1.5M178.51 398.37h1.5M178.51 410.8h1.5M178.51 423.23h1.5M178.51 435.66h1.5M178.51 448.09h1.5M178.51 460.53h1.5M178.51 472.96h1.5M178.51 485.39h1.5M178.51 497.82h1.5M178.51 510.25h1.5M178.51 522.69h1.5M178.51 535.12h1.5M178.51 54.67h1.5M178.51 543.15h1.5M178.51 56.87h1.5M178.51 540.95h1.5M240.64 62.7h1.5M240.64 75.13h1.5M240.64 87.57h1.5M240.64 100h1.5M240.64 112.43h1.5M240.64 124.86h1.5M240.64 137.29h1.5M240.64 149.73h1.5M240.64 162.16h1.5M240.64 174.59h1.5M240.64 187.02h1.5M240.64 199.45h1.5M240.64 211.89h1.5M240.64 224.32h1.5M240.64 236.75h1.5M240.64 249.18h1.5M240.64 261.61h1.5M240.64 274.05h1.5M240.64 286.48h1.5M240.64 298.91h1.5M240.64 311.34h1.5M240.64 323.77h1.5M240.64 336.21h1.5M240.64 348.64h1.5M240.64 361.07h1.5M240.64 373.5h1.5M240.64 385.93h1.5M240.64 398.37h1.5M240.64 410.8h1.5M240.64 423.23h1.5M240.64 435.66h1.5M240.64 448.09h1.5M240.64 460.53h1.5M240.64 472.96h1.5M240.64 485.39h1.5M240.64 497.82h1.5M240.64 510.25h1.5M240.64 522.69h1.5M240.64 535.12h1.5M240.64 54.67h1.5M240.64 543.15h1.5M240.64 56.87h1.5M240.64 540.95h1.5M302.77 62.7h1.5M302.77 75.13h1.5M302.77 87.57h1.5M302.77 100h1.5M302.77 112.43h1.5M302.77 124.86h1.5M302.77 137.29h1.5M302.77 149.73h1.5M302.77 162.16h1.5M302.77 174.59h1.5M302.77 187.02h1.5M302.77 199.45h1.5M302.77 211.89h1.5M302.77 224.32h1.5M302.77 236.75h1.5M302.77 249.18h1.5M302.77 261.61h1.5M302.77 274.05h1.5M302.77 286.48h1.5M302.77 298.91h1.5M302.77 311.34h1.5M302.77 323.77h1.5M302.77 336.21h1.5M302.77 348.64h1.5M302.77 361.07h1.5M302.77 373.5h1.5M302.77 385.93h1.5M302.77 398.37h1.5M302.77 410.8h1.5M302.77 423.23h1.5M302.77 435.66h1.5M302.77 448.09h1.5M302.77 460.53h1.5M302.77 472.96h1.5M302.77 485.39h1.5M302.77 497.82h1.5M302.77 510.25h1.5M302.77 522.69h1.5M302.77 535.12h1.5M302.77 54.67h1.5M302.77 543.15h1.5M302.77 56.87h1.5M302.77 540.95h1.5M427.03 62.7h1.5M427.03 75.13h1.5M427.03 87.57h1.5M427.03 100h1.5M427.03 112.43h1.5M427.03 124.86h1.5M427.03 137.29h1.5M427.03 149.73h1.5M427.03 162.16h1.5M427.03 174.59h1.5M427.03 187.02h1.5M427.03 199.45h1.5M427.03 211.89h1.5M427.03 224.32h1.5M427.03 236.75h1.5M427.03 249.18h1.5M427.03 261.61h1.5M427.03 274.05h1.5M427.03 286.48h1.5M427.03 298.91h1.5M427.03 311.34h1.5M427.03 323.77h1.5M427.03 336.21h1.5M427.03 348.64h1.5M427.03 361.07h1.5M427.03 373.5h1.5M427.03 385.93h1.5M427.03 398.37h1.5M427.03 410.8h1.5M427.03 423.23h1.5M427.03 435.66h1.5M427.03 448.09h1.5M427.03 460.53h1.5M427.03 472.96h1.5M427.03 485.39h1.5M427.03 497.82h1.5M427.03 510.25h1.5M427.03 522.69h1.5M427.03 535.12h1.5M427.03 54.67h1.5M427.03 543.15h1.5M427.03 56.87h1.5M427.03 540.95h1.5M489.16 62.7h1.5M489.16 75.13h1.5M489.16 87.57h1.5M489.16 100h1.5M489.16 112.43h1.5M489.16 124.86h1.5M489.16 137.29h1.5M489.16 149.73h1.5M489.16 162.16h1.5M489.16 174.59h1.5M489.16 187.02h1.5M489.16 199.45h1.5M489.16 211.89h1.5M489.16 224.32h1.5M489.16 236.75h1.5M489.16 249.18h1.5M489.16 261.61h1.5M489.16 274.05h1.5M489.16 286.48h1.5M489.16 298.91h1.5M489.16 311.34h1.5M489.16 323.77h1.5M489.16 336.21h1.5M489.16 348.64h1.5M489.16 361.07h1.5M489.16 373.5h1.5M489.16 385.93h1.5M489.16 398.37h1.5M489.16 410.8h1.5M489.16 423.23h1.5M489.16 435.66h1.5M489.16 448.09h1.5M489.16 460.53h1.5M489.16 472.96h1.5M489.16 485.39h1.5M489.16 497.82h1.5M489.16 510.25h1.5M489.16 522.69h1.5M489.16 535.12h1.5M489.16 54.67h1.5M489.16 543.15h1.5M489.16 56.87h1.5M489.16 540.95h1.5M551.29 62.7h1.5M551.29 75.13h1.5M551.29 87.57h1.5M551.29 100h1.5M551.29 112.43h1.5M551.29 124.86h1.5M551.29 137.29h1.5M551.29 149.73h1.5M551.29 162.16h1.5M551.29 174.59h1.5M551.29 187.02h1.5M551.29 199.45h1.5M551.29 211.89h1.5M551.29 224.32h1.5M551.29 236.75h1.5M551.29 249.18h1.5M551.29 261.61h1.5M551.29 274.05h1.5M551.29 286.48h1.5M551.29 298.91h1.5M551.29 311.34h1.5M551.29 323.77h1.5M551.29 336.21h1.5M551.29 348.64h1.5M551.29 361.07h1.5M551.29 373.5h1.5M551.29 385.93h1.5M551.29 398.37h1.5M551.29 410.8h1.5M551.29 423.23h1.5M551.29 435.66h1.5M551.29 448.09h1.5M551.29 460.53h1.5M551.29 472.96h1.5M551.29 485.39h1.5M551.29 497.82h1.5M551.29 510.25h1.5M551.29 522.69h1.5M551.29 535.12h1.5M551.29 54.67h1.5M551.29 543.15h1.5M551.29 56.87h1.5M551.29 540.95h1.5M613.42 62.7h1.5M613.42 75.13h1.5M613.42 87.57h1.5M613.42 100h1.5M613.42 112.43h1.5M613.42 124.86h1.5M613.42 137.29h1.5M613.42 149.73h1.5M613.42 162.16h1.5M613.42 174.59h1.5M613.42 187.02h1.5M613.42 199.45h1.5M613.42 211.89h1.5M613.42 224.32h1.5M613.42 236.75h1.5M613.42 249.18h1.5M613.42 261.61h1.5M613.42 274.05h1.5M613.42 286.48h1.5M613.42 298.91h1.5M613.42 311.34h1.5M613.42 323.77h1.5M613.42 336.21h1.5M613.42 348.64h1.5M613.42 361.07h1.5M613.42 373.5h1.5M613.42 385.93h1.5M613.42 398.37h1.5M613.42 410.8h1.5M613.42 423.23h1.5M613.42 435.66h1.5M613.42 448.09h1.5M613.42 460.53h1.5M613.42 472.96h1.5M613.42 485.39h1.5M613.42 497.82h1.5M613.42 510.25h1.5M613.42 522.69h1.5M613.42 535.12h1.5M613.42 54.67h1.5M613.42 543.15h1.5M613.42 56.87h1.5M613.42 540.95h1.5M58.65 112.43h1.5M671.15 112.43h1.5M60.85 112.43h1.5M668.95 112.43h1.5M58.65 174.59h1.5M671.15 174.59h1.5M60.85 174.59h1.5M668.95 174.59h1.5M58.65 236.75h1.5M671.15 236.75h1.5M60.85 236.75h1.5M668.95 236.75h1.5M58.65 361.07h1.5M671.15 361.07h1.5M60.85 361.07h1.5M668.95 361.07h1.5M58.65 423.23h1.5M671.15 423.23h1.5M60.85 423.23h1.5M668.95 423.23h1.5M58.65 485.39h1.5M671.15 485.39h1.5M60.85 485.39h1.5M668.95 485.39h1.5M66.68 112.43h1.5M79.1 112.43h1.5M91.53 112.43h1.5M103.95 112.43h1.5M116.38 112.43h1.5M128.81 112.43h1.5M141.23 112.43h1.5M153.66 112.43h1.5M166.08 112.43h1.5M178.51 112.43h1.5M190.94 112.43h1.5M203.36 112.43h1.5M215.79 112.43h1.5M228.21 112.43h1.5M240.64 112.43h1.5M253.07 112.43h1.5M265.49 112.43h1.5M277.92 112.43h1.5M290.34 112.43h1.5M302.77 112.43h1.5M315.2 112.43h1.5M327.62 112.43h1.5M340.05 112.43h1.5M352.47 112.43h1.5M364.9 112.43h1.5M377.33 112.43h1.5M389.75 112.43h1.5M402.18 112.43h1.5M414.6 112.43h1.5M427.03 112.43h1.5M439.46 112.43h1.5M451.88 112.43h1.5M464.31 112.43h1.5M476.73 112.43h1.5M489.16 112.43h1.5M501.59 112.43h1.5M514.01 112.43h1.5M526.44 112.43h1.5M538.86 112.43h1.5M551.29 112.43h1.5M563.72 112.43h1.5M576.14 112.43h1.5M588.57 112.43h1.5M600.99 112.43h1.5M613.42 112.43h1.5M625.85 112.43h1.5M638.27 112.43h1.5M650.7 112.43h1.5M663.12 112.43h1.5M66.68 174.59h1.5M79.1 174.59h1.5M91.53 174.59h1.5M103.95 174.59h1.5M116.38 174.59h1.5M128.81 174.59h1.5M141.23 174.59h1.5M153.66 174.59h1.5M166.08 174.59h1.5M178.51 174.59h1.5M190.94 174.59h1.5M203.36 174.59h1.5M215.79 174.59h1.5M228.21 174.59h1.5M240.64 174.59h1.5M253.07 174.59h1.5M265.49 174.59h1.5M277.92 174.59h1.5M290.34 174.59h1.5M302.77 174.59h1.5M315.2 174.59h1.5M327.62 174.59h1.5M340.05 174.59h1.5M352.47 174.59h1.5M364.9 174.59h1.5M377.33 174.59h1.5M389.75 174.59h1.5M402.18 174.59h1.5M414.6 174.59h1.5M427.03 174.59h1.5M439.46 174.59h1.5M451.88 174.59h1.5M464.31 174.59h1.5M476.73 174.59h1.5M489.16 174.59h1.5M501.59 174.59h1.5M514.01 174.59h1.5M526.44 174.59h1.5M538.86 174.59h1.5M551.29 174.59h1.5M563.72 174.59h1.5M576.14 174.59h1.5M588.57 174.59h1.5M600.99 174.59h1.5M613.42 174.59h1.5M625.85 174.59h1.5M638.27 174.59h1.5M650.7 174.59h1.5M663.12 174.59h1.5M66.68 236.75h1.5M79.1 236.75h1.5M91.53 236.75h1.5M103.95 236.75h1.5M116.38 236.75h1.5M128.81 236.75h1.5M141.23 236.75h1.5M153.66 236.75h1.5M166.08 236.75h1.5M178.51 236.75h1.5M190.94 236.75h1.5M203.36 236.75h1.5M215.79 236.75h1.5M228.21 236.75h1.5M240.64 236.75h1.5M253.07 236.75h1.5M265.49 236.75h1.5M277.92 236.75h1.5M290.34 236.75h1.5M302.77 236.75h1.5M315.2 236.75h1.5M327.62 236.75h1.5M340.05 236.75h1.5M352.47 236.75h1.5M364.9 236.75h1.5M377.33 236.75h1.5M389.75 236.75h1.5M402.18 236.75h1.5M414.6 236.75h1.5M427.03 236.75h1.5M439.46 236.75h1.5M451.88 236.75h1.5M464.31 236.75h1.5M476.73 236.75h1.5M489.16 236.75h1.5M501.59 236.75h1.5M514.01 236.75h1.5M526.44 236.75h1.5M538.86 236.75h1.5M551.29 236.75h1.5M563.72 236.75h1.5M576.14 236.75h1.5M588.57 236.75h1.5M600.99 236.75h1.5M613.42 236.75h1.5M625.85 236.75h1.5M638.27 236.75h1.5M650.7 236.75h1.5M663.12 236.75h1.5M66.68 361.07h1.5M79.1 361.07h1.5M91.53 361.07h1.5M103.95 361.07h1.5M116.38 361.07h1.5M128.81 361.07h1.5M141.23 361.07h1.5M153.66 361.07h1.5M166.08 361.07h1.5M178.51 361.07h1.5M190.94 361.07h1.5M203.36 361.07h1.5M215.79 361.07h1.5M228.21 361.07h1.5M240.64 361.07h1.5M253.07 361.07h1.5M265.49 361.07h1.5M277.92 361.07h1.5M290.34 361.07h1.5M302.77 361.07h1.5M315.2 361.07h1.5M327.62 361.07h1.5M340.05 361.07h1.5M352.47 361.07h1.5M364.9 361.07h1.5M377.33 361.07h1.5M389.75 361.07h1.5M402.18 361.07h1.5M414.6 361.07h1.5M427.03 361.07h1.5M439.46 361.07h1.5M451.88 361.07h1.5M464.31 361.07h1.5M476.73 361.07h1.5M489.16 361.07h1.5M501.59 361.07h1.5M514.01 361.07h1.5M526.44 361.07h1.5M538.86 361.07h1.5M551.29 361.07h1.5M563.72 361.07h1.5M576.14 361.07h1.5M588.57 361.07h1.5M600.99 361.07h1.5M613.42 361.07h1.5M625.85 361.07h1.5M638.27 361.07h1.5M650.7 361.07h1.5M663.12 361.07h1.5M66.68 423.23h1.5M79.1 423.23h1.5M91.53 423.23h1.5M103.95 423.23h1.5M116.38 423.23h1.5M128.81 423.23h1.5M141.23 423.23h1.5M153.66 423.23h1.5M166.08 423.23h1.5M178.51 423.23h1.5M190.94 423.23h1.5M203.36 423.23h1.5M215.79 423.23h1.5M228.21 423.23h1.5M240.64 423.23h1.5M253.07 423.23h1.5M265.49 423.23h1.5M277.92 423.23h1.5M290.34 423.23h1.5M302.77 423.23h1.5M315.2 423.23h1.5M327.62 423.23h1.5M340.05 423.23h1.5M352.47 423.23h1.5M364.9 423.23h1.5M377.33 423.23h1.5M389.75 423.23h1.5M402.18 423.23h1.5M414.6 423.23h1.5M427.03 423.23h1.5M439.46 423.23h1.5M451.88 423.23h1.5M464.31 423.23h1.5M476.73 423.23h1.5M489.16 423.23h1.5M501.59 423.23h1.5M514.01 423.23h1.5M526.44 423.23h1.5M538.86 423.23h1.5M551.29 423.23h1.5M563.72 423.23h1.5M576.14 423.23h1.5M588.57 423.23h1.5M600.99 423.23h1.5M613.42 423.23h1.5M625.85 423.23h1.5M638.27 423.23h1.5M650.7 423.23h1.5M663.12 423.23h1.5M66.68 485.39h1.5M79.1 485.39h1.5M91.53 485.39h1.5M103.95 485.39h1.5M116.38 485.39h1.5M128.81 485.39h1.5M141.23 485.39h1.5M153.66 485.39h1.5M166.08 485.39h1.5M178.51 485.39h1.5M190.94 485.39h1.5M203.36 485.39h1.5M215.79 485.39h1.5M228.21 485.39h1.5M240.64 485.39h1.5M253.07 485.39h1.5M265.49 485.39h1.5M277.92 485.39h1.5M290.34 485.39h1.5M302.77 485.39h1.5M315.2 485.39h1.5M327.62 485.39h1.5M340.05 485.39h1.5M352.47 485.39h1.5M364.9 485.39h1.5M377.33 485.39h1.5M389.75 485.39h1.5M402.18 485.39h1.5M414.6 485.39h1.5M427.03 485.39h1.5M439.46 485.39h1.5M451.88 485.39h1.5M464.31 485.39h1.5M476.73 485.39h1.5M489.16 485.39h1.5M501.59 485.39h1.5M514.01 485.39h1.5M526.44 485.39h1.5M538.86 485.39h1.5M551.29 485.39h1.5M563.72 485.39h1.5M576.14 485.39h1.5M588.57 485.39h1.5M600.99 485.39h1.5M613.42 485.39h1.5M625.85 485.39h1.5M638.27 485.39h1.5M650.7 485.39h1.5M663.12 485.39h1.5" stroke="#505050" stroke-width="1.5"/>
<path d="M56.99 298.91h1M59.47 298.91h1M61.96 298.91h1M64.44 298.91h1M66.93 298.91h1M69.41 298.91h1M71.9 298.91h1M74.38 298.91h1M76.87 298.91h1M79.35 298.91h1M81.84 298.91h1M84.32 298.91h1M86.81 298.91h1M89.29 298.91h1M91.78 298.91h1M94.26 298.91h1M96.75 298.91h1M99.23 298.91h1M101.72 298.91h1M104.2 298.91h1M106.69 298.91h1M109.17 298.91h1M111.66 298.91h1M114.14 298.91h1M116.63 298.91h1M119.12 298.91h1M121.6 298.91h1M124.09 298.91h1M126.57 298.91h1M129.06 298.91h1M131.54 298.91h1M134.03 298.91h1M136.51 298.91h1M139 298.91h1M141.48 298.91h1M143.97 298.91h1M146.45 298.91h1M148.94 298.91h1M151.42 298.91h1M153.91 298.91h1M156.39 298.91h1M158.88 298.91h1M161.36 298.91h1M163.85 298.91h1M166.33 298.91h1M168.82 298.91h1M171.3 298.91h1M173.79 298.91h1M176.27 298.91h1M178.76 298.91h1M181.25 298.91h1M183.73 298.91h1M186.22 298.91h1M188.7 298.91h1M191.19 298.91h1M193.67 298.91h1M196.16 298.91h1M198.64 298.91h1M201.13 298.91h1M203.61 298.91h1M206.1 298.91h1M208.58 298.91h1M211.07 298.91h1M213.55 298.91h1M216.04 298.91h1M218.52 298.91h1M221.01 298.91h1M223.49 298.91h1M225.98 298.91h1M228.46 298.91h1M230.95 298.91h1M233.43 298.91h1M235.92 298.91h1M238.4 298.91h1M240.89 298.91h1M243.38 298.91h1M245.86 298.91h1M248.35 298.91h1M250.83 298.91h1M253.32 298.91h1M255.8 298.91h1M258.29 298.91h1M260.77 298.91h1M263.26 298.91h1M265.74 298.91h1M268.23 298.91h1M270.71 298.91h1M273.2 298.91h1M275.68 298.91h1M278.17 298.91h1M280.65 298.91h1M283.14 298.91h1M285.62 298.91h1M288.11 298.91h1M290.59 298.91h1M293.08 298.91h1M295.56 298.91h1M298.05 298.91h1M300.53 298.91h1M303.02 298.91h1M305.51 298.91h1M307.99 298.91h1M310.48 298.91h1M312.96 298.91h1M315.45 298.91h1M317.93 298.91h1M320.42 298.91h1M322.9 298.91h1M325.39 298.91h1M327.87 298.91h1M330.36 298.91h1M332.84 298.91h1M335.33 298.91h1M337.81 298.91h1M340.3 298.91h1M342.78 298.91h1M345.27 298.91h1M347.75 298.91h1M350.24 298.91h1M352.72 298.91h1M355.21 298.91h1M357.69 298.91h1M360.18 298.91h1M362.66 298.91h1M365.15 298.91h1M367.64 298.91h1M370.12 298.91h1M372.61 298.91h1M375.09 298.91h1M377.58 298.91h1M380.06 298.91h1M382.55 298.91h1M385.03 298.91h1M387.52 298.91h1M390 298.91h1M392.49 298.91h1M394.97 298.91h1M397.46 298.91h1M399.94 298.91h1M402.43 298.91h1M404.91 298.91h1M407.4 298.91h1M409.88 298.91h1M412.37 298.91h1M414.85 298.91h1M417.34 298.91h1M419.82 298.91h1M422.31 298.91h1M424.79 298.91h1M427.28 298.91h1M429.77 298.91h1M432.25 298.91h1M434.74 298.91h1M437.22 298.91h1M439.71 298.91h1M442.19 298.91h1M444.68 298.91h1M447.16 298.91h1M449.65 298.91h1M452.13 298.91h1M454.62 298.91h1M457.1 298.91h1M459.59 298.91h1M462.07 298.91h1M464.56 298.91h1M467.04 298.91h1M469.53 298.91h1M472.01 298.91h1M474.5 298.91h1M476.98 298.91h1M479.47 298.91h1M481.95 298.91h1M484.44 298.91h1M486.92 298.91h1M489.41 298.91h1M491.9 298.91h1M494.38 298.91h1M496.87 298.91h1M499.35 298.91h1M501.84 298.91h1M504.32 298.91h1M506.81 298.91h1M509.29 298.91h1M511.78 298.91h1M514.26 298.91h1M516.75 298.91h1M519.23 298.91h1M521.72 298.91h1M524.2 298.91h1M526.69 298.91h1M529.17 298.91h1M531.66 298.91h1M534.14 298.91h1M536.63 298.91h1M539.11 298.91h1M541.6 298.91h1M544.08 298.91h1M546.57 298.91h1M549.05 298.91h1M551.54 298.91h1M554.03 298.91h1M556.51 298.91h1M559 298.91h1M561.48 298.91h1M563.97 298.91h1M566.45 298.91h1M568.94 298.91h1M571.42 298.91h1M573.91 298.91h1M576.39 298.91h1M578.88 298.91h1M581.36 298.91h1M583.85 298.91h1M586.33 298.91h1M588.82 298.91h1M591.3 298.91h1M593.79 298.91h1M596.27 298.91h1M598.76 298.91h1M601.24 298.91h1M603.73 298.91h1M606.21 298.91h1M608.7 298.91h1M611.18 298.91h1M613.67 298.91h1M616.16 298.91h1M618.64 298.91h1M621.13 298.91h1M623.61 298.91h1M626.1 298.91h1M628.58 298.91h1M631.07 298.91h1M633.55 298.91h1M636.04 298.91h1M638.52 298.91h1M641.01 298.91h1M643.49 298.91h1M645.98 298.91h1M648.46 298.91h1M650.95 298.91h1M653.43 298.91h1M655.92 298.91h1M658.4 298.91h1M660.89 298.91h1M663.37 298.91h1M665.86 298.91h1M668.34 298.91h1M670.83 298.91h1M673.31 298.91h1M365.15 52.76h1M365.15 55.24h1M365.15 57.73h1M365.15 60.22h1M365.15 62.7h1M365.15 65.19h1M365.15 67.67h1M365.15 70.16h1M365.15 72.65h1M365.15 75.13h1M365.15 77.62h1M365.15 80.11h1M365.15 82.59h1M365.15 85.08h1M365.15 87.57h1M365.15 90.05h1M365.15 92.54h1M365.15 95.03h1M365.15 97.51h1M365.15 100h1M365.15 102.48h1M365.15 104.97h1M365.15 107.46h1M365.15 109.94h1M365.15 112.43h1M365.15 114.92h1M365.15 117.4h1M365.15 119.89h1M365.15 122.38h1M365.15 124.86h1M365.15 127.35h1M365.15 129.83h1M365.15 132.32h1M365.15 134.81h1M365.15 137.29h1M365.15 139.78h1M365.15 142.27h1M365.15 144.75h1M365.15 147.24h1M365.15 149.73h1M365.15 152.21h1M365.15 154.7h1M365.15 157.19h1M365.15 159.67h1M365.15 162.16h1M365.15 164.64h1M365.15 167.13h1M365.15 169.62h1M365.15 172.1h1M365.15 174.59h1M365.15 177.08h1M365.15 179.56h1M365.15 182.05h1M365.15 184.54h1M365.15 187.02h1M365.15 189.51h1M365.15 191.99h1M365.15 194.48h1M365.15 196.97h1M365.15 199.45h1M365.15 201.94h1M365.15 204.43h1M365.15 206.91h1M365.15 209.4h1M365.15 211.89h1M365.15 214.37h1M365.15 216.86h1M365.15 219.35h1M365.15 221.83h1M365.15 224.32h1M365.15 226.8h1M365.15 229.29h1M365.15 231.78h1M365.15 234.26h1M365.15 236.75h1M365.15 239.24h1M365.15 241.72h1M365.15 244.21h1M365.15 246.7h1M365.15 249.18h1M365.15 251.67h1M365.15 254.15h1M365.15 256.64h1M365.15 259.13h1M365.15 261.61h1M365.15 264.1h1M365.15 266.59h1M365.15 269.07h1M365.15 271.56h1M365.15 274.05h1M365.15 276.53h1M365.15 279.02h1M365.15 281.51h1M365.15 283.99h1M365.15 286.48h1M365.15 288.96h1M365.15 291.45h1M365.15 293.94h1M365.15 296.42h1M365.15 298.91h1M365.15 301.4h1M365.15 303.88h1M365.15 306.37h1M365.15 308.86h1M365.15 311.34h1M365.15 313.83h1M365.15 316.31h1M365.15 318.8h1M365.15 321.29h1M365.15 323.77h1M365.15 326.26h1M365.15 328.75h1M365.15 331.23h1M365.15 333.72h1M365.15 336.21h1M365.15 338.69h1M365.15 341.18h1M365.15 343.67h1M365.15 346.15h1M365.15 348.64h1M365.15 351.12h1M365.15 353.61h1M365.15 356.1h1M365.15 358.58h1M365.15 361.07h1M365.15 363.56h1M365.15 366.04h1M365.15 368.53h1M365.15 371.02h1M365.15 373.5h1M365.15 375.99h1M365.15 378.47h1M365.15 380.96h1M365.15 383.45h1M365.15 385.93h1M365.15 388.42h1M365.15 390.91h1M365.15 393.39h1M365.15 395.88h1M365.15 398.37h1M365.15 400.85h1M365.15 403.34h1M365.15 405.83h1M365.15 408.31h1M365.15 410.8h1M365.15 413.28h1M365.15 415.77h1M365.15 418.26h1M365.15 420.74h1M365.15 423.23h1M365.15 425.72h1M365.15 428.2h1M365.15 430.69h1M365.15 433.18h1M365.15 435.66h1M365.15 438.15h1M365.15 440.63h1M365.15 443.12h1M365.15 445.61h1M365.15 448.09h1M365.15 450.58h1M365.15 453.07h1M365.15 455.55h1M365.15 458.04h1M365.15 460.53h1M365.15 463.01h1M365.15 465.5h1M365.15 467.99h1M365.15 470.47h1M365.15 472.96h1M365.15 475.44h1M365.15 477.93h1M365.15 480.42h1M365.15 482.9h1M365.15 485.39h1M365.15 487.88h1M365.15 490.36h1M365.15 492.85h1M365.15 495.34h1M365.15 497.82h1M365.15 500.31h1M365.15 502.79h1M365.15 505.28h1M365.15 507.77h1M365.15 510.25h1M365.15 512.74h1M365.15 515.23h1M365.15 517.71h1M365.15 520.2h1M365.15 522.69h1M365.15 525.17h1M365.15 527.66h1M365.15 530.15h1M365.15 532.63h1M365.15 535.12h1M365.15 537.6h1M365.15 540.09h1M365.15 542.58h1M365.15 545.06h1" stroke="#3a3a3a" stroke-width="1.1"/>
<path d="M67.43 294.61V303.21M79.85 294.61V303.21M92.28 294.61V303.21M104.7 294.61V303.21M117.13 294.61V303.21M129.56 294.61V303.21M141.98 294.61V303.21M154.41 294.61V303.21M166.83 294.61V303.21M179.26 294.61V303.21M191.69 294.61V303.21M204.11 294.61V303.21M216.54 294.61V303.21M228.96 294.61V303.21M241.39 294.61V303.21M253.82 294.61V303.21M266.24 294.61V303.21M278.67 294.61V303.21M291.09 294.61V303.21M303.52 294.61V303.21M315.95 294.61V303.21M328.37 294.61V303.21M340.8 294.61V303.21M353.22 294.61V303.21M365.65 294.61V303.21M378.08 294.61V303.21M390.5 294.61V303.21M402.93 294.61V303.21M415.35 294.61V303.21M427.78 294.61V303.21M440.21 294.61V303.21M452.63 294.61V303.21M465.06 294.61V303.21M477.48 294.61V303.21M489.91 294.61V303.21M502.34 294.61V303.21M514.76 294.61V303.21M527.19 294.61V303.21M539.61 294.61V303.21M552.04 294.61V303.21M564.47 294.61V303.21M576.89 294.61V303.21M589.32 294.61V303.21M601.74 294.61V303.21M614.17 294.61V303.21M626.6 294.61V303.21M639.02 294.61V303.21M651.45 294.61V303.21M663.87 294.61V303.21M361.35 62.7H369.95M361.35 75.13H369.95M361.35 87.57H369.95M361.35 100H369.95M361.35 112.43H369.95M361.35 124.86H369.95M361.35 137.29H369.95M361.35 149.73H369.95M361.35 162.16H369.95M361.35 174.59H369.95M361.35 187.02H369.95M361.35 199.45H369.95M361.35 211.89H369.95M361.35 224.32H369.95M361.35 236.75H369.95M361.35 249.18H369.95M361.35 261.61H369.95M361.35 274.05H369.95M361.35 286.48H369.95M361.35 298.91H369.95M361.35 311.34H369.95M361.35 323.77H369.95M361.35 336.21H369.95M361.35 348.64H369.95M361.35 361.07H369.95M361.35 373.5H369.95M361.35 385.93H369.95M361.35 398.37H369.95M361.35 410.8H369.95M361.35 423.23H369.95M361.35 435.66H369.95M361.35 448.09H369.95M361.35 460.53H369.95M361.35 472.96H369.95M361.35 485.39H369.95M361.35 497.82H369.95M361.35 510.25H369.95M361.35 522.69H369.95M361.35 535.12H369.95" stroke="#3a3a3a" stroke-width="1.2" stroke-dasharray="1.4 1.5"/>
<path d="M55.2 333.5 59.6 323.4 59.6 523 61.11 520.69 62.61 516.68 64.12 513.97 65.63 511.04 67.13 507.3 68.64 504.22 70.14 501.08 71.65 497.79 73.16 494.03 74.66 490.95 75.87 488.07 76.17 483.74 76.52 488.52 77.38 485.41 77.68 488.71 78.03 485.04 79.18 481.91 80.69 479.2 81.9 475.56 82.2 478.57 82.55 475.78 83.7 472.82 85.21 469.39 86.41 466.75 86.71 463.11 87.06 466.3 88.22 463.73 89.73 460.02 90.93 457.46 91.23 453.63 91.58 457.29 92.74 453.92 94.25 451.5 95.75 447.41 97.26 444.22 98.77 440.81 99.97 437.32 100.27 433.68 100.62 437.69 101.78 434.89 103.28 431.78 104.49 428.55 104.79 425.36 105.14 428.69 106 425.52 106.3 429.09 106.65 425.91 107.5 422.76 107.8 417.99 108.15 422.27 109.31 419.84 110.82 416.06 112.02 412.67 112.32 410.38 112.67 412.6 113.53 410.12 113.83 412.55 114.18 409.86 115.03 406.52 115.33 410.49 115.68 406.61 116.84 402.97 118.35 400.3 119.85 397.04 121.36 394.42 122.87 391.02 124.37 388.38 125.88 383.76 127.09 381.93 127.39 379.66 127.74 382.42 128.59 378.33 128.89 383.01 129.24 378.7 130.1 375.14 130.4 372.71 130.75 375.34 131.9 371.14 133.41 369.02 134.92 365.68 136.42 362.47 137.93 359.07 139.44 356.41 140.94 353.63 142.15 350.04 142.45 353.05 142.8 350.37 143.96 346.47 145.16 343.44 145.46 348.16 145.81 343 146.97 340.05 148.47 337.96 149.98 335.36 151.49 331.8 152.69 328.47 152.99 325.4 153.34 328.71 154.5 324.8 154.5 523 156 519.73 157.5 517.22 159 513.27 160.51 510.36 161.71 507.3 162.01 502.96 162.36 507.66 163.51 503.96 165.01 500.37 166.51 496.86 168.01 494.77 169.22 490.79 169.52 493.89 169.87 490.77 170.72 487.13 171.02 483.61 171.37 487.34 172.52 483.46 173.72 481.61 174.02 478.37 174.37 481.69 175.52 479.49 177.02 474.66 178.53 471.31 180.03 468.83 181.53 465.57 183.03 462.78 184.23 458.78 184.53 455.53 184.88 458.41 185.73 455.33 186.03 453.1 186.38 454.95 187.54 452.13 188.74 449.88 189.04 447.52 189.39 449.58 190.54 446.77 191.74 443.96 192.04 441.63 192.39 444.28 193.54 440.11 195.04 437.25 196.55 434.23 197.75 430.9 198.05 428.46 198.4 431.27 199.55 427.37 201.05 423.89 202.55 420.86 203.75 417.56 204.05 413.96 204.4 417.18 205.55 415.42 207.06 412.06 208.56 408.24 210.06 404.79 211.56 401.78 213.06 398.36 214.56 394.86 216.07 392.47 217.27 388.72 217.57 384.6 217.92 388.7 219.07 385.35 220.57 382.74 221.77 379.3 222.07 376.14 222.42 379.21 223.57 375.76 225.08 373.28 226.58 370.66 228.08 366.43 229.28 364.45 229.58 368.34 229.93 364.12 230.78 360.3 231.08 363.59 231.43 360.63 232.58 357.19 234.09 353.63 235.59 350.34 237.09 347.46 238.59 344.36 240.09 340.83 241.29 337.95 241.59 342.41 241.94 338.35 243.1 333.49 244.6 331.09 246.1 327.97 247.6 324.8 247.6 523 248.8 519.74 249.1 516.1 249.45 520.11 250.6 517.82 251.8 513.36 252.1 516.32 252.45 513.39 253.6 510.33 254.8 507.23 255.1 511.48 255.45 506.85 256.6 503.63 258.1 500.35 259.3 498.21 259.6 494.01 259.95 498 260.8 494.79 261.1 491.46 261.45 495.1 262.6 490.86 263.8 487.05 264.1 491.13 264.45 487.29 265.6 484.92 267.1 480.95 268.6 478.01 270.1 474.38 271.6 471.93 272.8 468.89 273.1 465.92 273.45 468.48 274.6 465.05 276.1 461.79 277.6 458.34 279.1 455.1 280.6 452.21 282.1 448.87 283.6 445.63 285.1 442.66 286.3 438.92 286.6 441.43 286.95 438.8 288.1 436.18 289.3 432.76 289.6 430.19 289.95 432.88 291.1 429.92 292.6 426.27 293.8 422.87 294.1 425.48 294.45 423.01 295.6 419.98 296.8 417.02 297.1 414.45 297.45 417.36 298.6 413.69 300.1 409.42 301.3 407.1 301.6 411.55 301.95 407.13 303.1 403.12 304.6 400.29 306.1 396.84 307.6 394.11 309.1 390.09 310.3 388.85 310.6 385.12 310.95 388.42 311.8 384.1 312.1 380.66 312.45 384.37 313.6 381.47 315.1 377.68 316.6 374.11 318.1 371.56 319.3 368.76 319.6 371.75 319.95 369.17 320.8 364.3 321.1 362.1 321.45 364.53 322.6 361.3 324.1 358.88 325.6 355.82 327.1 351.58 328.6 348.22 329.8 344.17 330.1 346.84 330.45 343.67 331.6 341.77 333.1 339.87 334.6 335.34 335.8 332.84 336.1 330.42 336.45 332.95 337.6 330.18 339.1 325.87 340.6 322.8 340.6 523 341.81 520.86 342.11 516.45 342.46 521.06 343.62 517.69 345.13 513.43 346.64 510.48 348.15 506.09 349.66 503.28 351.17 500.87 352.68 496.57 354.19 493.95 355.4 490.58 355.7 492.84 356.05 490.77 357.21 487.45 358.72 483.7 359.93 480.95 360.23 478.24 360.58 480.84 361.74 478.03 362.95 474.78 363.25 471.84 363.6 474.87 364.75 470.24 366.26 468.08 367.77 465.44 368.98 460.84 369.28 457.11 369.63 460.71 370.49 459.12 370.79 462.67 371.14 459.49 372 455.3 372.3 452.64 372.65 455.17 373.81 451.79 375.02 448.44 375.32 444.39 375.67 448.67 376.53 445.06 376.83 441.05 377.18 444.83 378.34 441.84 379.85 438.57 381.36 434.87 382.87 432.14 384.08 428.64 384.38 424.72 384.73 428.67 385.89 425.59 387.4 423.14 388.61 419.57 388.91 416.82 389.26 420.03 390.42 416.09 391.93 413.12 393.14 409.18 393.44 404.6 393.79 409.32 394.95 406 396.46 403.01 397.67 399.86 397.97 395.92 398.32 399.8 399.18 396.7 399.48 394.25 399.83 396.83 400.99 393.53 402.2 390.24 402.5 386.3 402.85 390.44 404.01 386.68 405.52 383.61 407.03 379.78 408.24 377.17 408.54 372.67 408.89 377.02 409.75 373.21 410.05 376.35 410.4 373.46 411.25 370.89 411.55 374.12 411.9 371.07 413.06 366.05 414.27 364.29 414.57 360.5 414.92 364.38 416.08 360.87 417.29 357.81 417.59 360.9 417.94 357.41 418.8 353.88 419.1 349.67 419.45 353.51 420.61 350.78 421.82 347.6 422.12 344.8 422.47 347.49 423.63 344.62 424.84 340.87 425.14 344.15 425.49 341.22 426.65 337.95 428.16 334.79 429.67 331.73 431.18 327.9 432.39 324.53 432.69 321.49 433.04 324.2 434.2 321.8 434.2 523 435.7 518.45 437.2 515.06 438.7 511.91 439.9 507.71 440.2 505.01 440.55 507.29 441.7 504.45 442.9 501.24 443.2 504.36 443.55 501.52 444.7 495.95 446.2 493.22 447.7 489.44 449.2 484.21 450.4 481.96 450.7 477.88 451.05 482.25 452.2 478.39 453.7 473.34 455.2 470.07 456.7 466.39 458.2 462.58 459.7 458.92 461.2 454.27 462.7 451.16 464.2 446.56 465.4 443.11 465.7 447.09 466.05 443.44 466.9 438.37 467.2 434.17 467.55 438.08 468.4 435.64 468.7 433.33 469.05 435.42 470.2 432.24 471.4 427.61 471.7 423.23 472.05 427.3 473.2 424.04 474.7 420.94 476.2 416.34 477.7 412.38 479.2 408.67 480.7 404.32 481.9 401.49 482.2 406.14 482.55 401.02 483.7 397.35 484.9 393.62 485.2 397.98 485.55 394 486.7 390.1 488.2 386.49 489.7 381.94 491.2 378.6 492.7 374.61 494.2 370.75 495.4 367.65 495.7 363.81 496.05 367.4 497.2 363.2 498.4 358.94 498.7 363.33 499.05 358.93 499.9 355.04 500.2 357.72 500.55 354.9 501.7 352.48 503.2 347.92 504.7 343.97 505.9 340 506.2 336.67 506.55 339.94 507.4 336.97 507.7 341.7 508.05 337.13 508.9 332.55 509.2 327.9 509.55 333.01 510.7 328.73 512.2 325.77 513.7 321.6 513.7 523 515.21 519.12 516.41 516.47 516.71 512.88 517.06 516.4 517.92 514.03 518.22 509.57 518.57 514.13 519.73 511.43 520.94 508.85 521.24 504.07 521.59 508.86 522.74 505.92 523.95 502.57 524.25 498.82 524.6 502.93 525.76 499.83 527.26 496.87 528.47 494.76 528.77 499.28 529.12 495.21 529.98 490.99 530.28 493.44 530.63 491.06 531.79 489.07 533.29 485.22 534.5 483.4 534.8 486.92 535.15 483.59 536.31 479.91 537.81 476.99 539.32 474.06 540.53 471.61 540.83 469.01 541.18 471.54 542.04 468.76 542.34 464.92 542.69 468.47 543.84 465.39 545.35 461.73 546.86 460.06 548.36 456.37 549.87 454.11 551.08 451.27 551.38 454.06 551.73 450.99 552.89 447.55 554.09 444.95 554.39 442.44 554.74 444.7 555.6 442.39 555.9 445.31 556.25 442.79 557.41 439.62 558.91 436.54 560.42 434.07 561.93 430.55 563.44 428.69 564.94 424.95 566.45 422.48 567.96 419.03 569.46 417.46 570.97 413.55 572.18 409.98 572.48 405.76 572.83 410.06 573.69 408.29 573.99 405.27 574.34 407.98 575.49 404.8 577 401.88 578.51 399.57 579.71 396.48 580.01 400.62 580.36 396.69 581.52 393.99 583.03 390.48 584.24 387.57 584.54 384.87 584.89 387.17 586.04 384.76 587.55 381.99 589.06 378.91 590.56 375.58 592.07 373.84 593.58 369.77 595.09 367.58 596.59 364.44 598.1 361.8 599.61 358.22 601.11 356.01 602.62 353.08 603.83 349.55 604.13 352.51 604.48 349.87 605.64 347.39 607.14 345.27 608.65 342.65 610.16 338.76 611.66 335.66 613.17 333.5 614.68 330.33 616.19 327.06 617.69 324.35 619.2 321.6 619.2 523 620.74 518.97 622.28 514.98 623.81 511.58 625.35 508.43 626.89 504.17 628.43 500.37 629.96 497.08 631.2 493.32 631.5 496.46 631.85 493.29 633.04 488.73 634.58 485.01 636.12 481.7 637.35 477.31 637.65 479.99 638 477.42 638.89 473.72 639.19 470.74 639.54 473.69 640.73 470.69 642.27 466.23 643.81 462.8 645.34 459.18 646.88 454.83 648.12 451.26 648.42 454.39 648.77 451.28 649.66 447.57 649.96 442.96 650.31 447.19 651.19 443.56 651.49 439.51 651.84 443.69 653.03 439.91 654.57 436.31 656.11 432.89 657.35 428.81 657.65 433.43 658 428.65 659.18 425.18 660.72 421.09 662.26 417.91 663.5 413.8 663.8 409.18 664.15 413.95 665.34 410.17 666.87 405.36 668.41 401 669.95 398.77 671.49 394.65 673.02 390.83 674.56 387.33 676.1 383.6" stroke="#3434ea" stroke-width="1.55" fill="none" stroke-linejoin="round"/>
<path d="M358.3 48.9H372.7L365.5 56.3Z" fill="#e3202a"/>
<path d="M27.5 325.9H42.4L53.3 335.9L42.4 346.6H27.5Z" fill="#990a99"/>
<text x="32" y="343.1" font-family="'DejaVu Sans', 'Liberation Sans', sans-serif" font-size="19" font-weight="normal" fill="#fff" stroke="#fff" stroke-width="0.3">2</text>
<path d="M28 351.7H42.8L52.6 361.2L42.8 371H28Z" fill="#fff" stroke="#14ecf0" stroke-width="1.6"/>
<text x="30.6" y="367.4" font-family="'DejaVu Sans', 'Liberation Sans', sans-serif" font-size="19" font-weight="normal" fill="#14ecf0" stroke="#14ecf0" stroke-width="0.6">1</text>
<path d="M28 425.9H43L52.6 435.6L43 445.3H28Z" fill="#fff" stroke="#16168e" stroke-width="1.6"/>
<text x="32" y="442.5" font-family="'DejaVu Sans', 'Liberation Sans', sans-serif" font-size="19" font-weight="normal" fill="#16168e" stroke="#16168e" stroke-width="0.6">2</text>
<rect x="91.4" y="552.7" width="121.2" height="20.6" fill="#fff" stroke="#a4a4a4" stroke-width="1.7"/>
<rect x="91.4" y="576.9" width="121.2" height="20.4" fill="#fff" stroke="#a4a4a4" stroke-width="1.7"/>
<rect x="255.3" y="552.7" width="121.2" height="20.6" fill="#fff" stroke="#a4a4a4" stroke-width="1.7"/>
<rect x="396.9" y="552.7" width="74.6" height="20.6" fill="#fff" stroke="#a4a4a4" stroke-width="1.7"/>
<rect x="505.4" y="552.7" width="173" height="22.3" fill="#fff" stroke="#a4a4a4" stroke-width="1.7"/>
<rect x="214.8" y="553.2" width="38.4" height="19.7" fill="#990a99"/>
<text x="50.7" y="569.2" font-family="'DejaVu Sans', 'Liberation Sans', sans-serif" font-size="19" font-weight="normal" fill="#14ecf0" stroke="#14ecf0" stroke-width="0.6" letter-spacing="-0.25">Ch1</text>
<text x="112.7" y="569.3" font-family="'DejaVu Sans', 'Liberation Sans', sans-serif" font-size="19" font-weight="normal" fill="#14ecf0" stroke="#14ecf0" stroke-width="0.6" letter-spacing="0.3">2.00 V</text>
<text x="50.6" y="592.4" font-family="'DejaVu Sans', 'Liberation Sans', sans-serif" font-size="19" font-weight="normal" fill="#16168e" stroke="#16168e" stroke-width="0.6" letter-spacing="1.0">Ch3</text>
<text x="112.7" y="592.4" font-family="'DejaVu Sans', 'Liberation Sans', sans-serif" font-size="19" font-weight="normal" fill="#16168e" stroke="#16168e" stroke-width="0.6" letter-spacing="0.3">2.00 V</text>
<text x="215" y="568.8" font-family="'DejaVu Sans', 'Liberation Sans', sans-serif" font-size="19" font-weight="normal" fill="#fff" stroke="#fff" stroke-width="0.15" letter-spacing="0.4">Ch2</text>
<text x="275.7" y="569.2" font-family="'DejaVu Sans', 'Liberation Sans', sans-serif" font-size="19" font-weight="normal" fill="#990a99" stroke="#990a99" stroke-width="0.6" letter-spacing="0.62">2.00 V</text>
<text x="378.6" y="569" font-family="'DejaVu Sans', 'Liberation Sans', sans-serif" font-size="19" font-weight="normal" fill="#000" stroke="#000" stroke-width="0.6">M</text>
<text x="402.5" y="569" font-family="'DejaVu Sans', 'Liberation Sans', sans-serif" font-size="19" font-weight="normal" fill="#000" stroke="#000" stroke-width="0.6" letter-spacing="-1.36">20.0ms</text>
<text x="490" y="569" font-family="'DejaVu Sans', 'Liberation Sans', sans-serif" font-size="19" font-weight="normal" fill="#000" stroke="#000" stroke-width="0.6">A</text>
<text x="520" y="569.1" font-family="'DejaVu Sans', 'Liberation Sans', sans-serif" font-size="19" font-weight="normal" fill="#990a99" stroke="#990a99" stroke-width="0.6" letter-spacing="0.95">Ch3</text>
<text x="589.5" y="568" font-family="'DejaVu Sans', 'Liberation Sans', sans-serif" font-size="19" font-weight="normal" fill="#000" stroke="#000" stroke-width="0.1" textLength="11.5" lengthAdjust="spacingAndGlyphs">–</text>
<text x="611" y="569.1" font-family="'DejaVu Sans', 'Liberation Sans', sans-serif" font-size="19" font-weight="normal" fill="#000" stroke="#000" stroke-width="0.6" textLength="29.3" lengthAdjust="spacingAndGlyphs">12.0</text>
<text x="657.5" y="569.1" font-family="'DejaVu Sans', 'Liberation Sans', sans-serif" font-size="19" font-weight="normal" fill="#000" stroke="#000" stroke-width="0.6">V</text>
<path d="M572.8 568.2H577.4C579.3 568.2 579.4 566.5 579.9 563.2C580.4 559.4 580.9 557.2 583.2 557.2H586.6" stroke="#000" stroke-width="2.1" fill="none"/>
</g>
<g transform="translate(711.5 6.46) scale(0.99)">
<g clip-path="url(#cr)">
<text y="43.7" font-family="'Liberation Serif', 'Times New Roman', serif" font-weight="bold" font-size="25.6" fill="#000"><tspan x="27" textLength="14.2" lengthAdjust="spacingAndGlyphs">T</tspan><tspan x="37.3" textLength="12.7" lengthAdjust="spacingAndGlyphs">e</tspan><tspan x="49.7" textLength="15.8" lengthAdjust="spacingAndGlyphs">k</tspan></text>
<path d="M228.4 35.2H502.5" stroke="#b848c4" stroke-width="1.6"/>
<path d="M306.2 27.2H304V43.6H306.2M425.8 27.2H428V43.6H425.8" stroke="#2a2a2a" stroke-width="1.5" fill="none"/>
<path d="M361 26.6H370L365.5 31Z" fill="#e3202a"/>
<rect x="50.6" y="45.7" width="628.4" height="3.2" fill="url(#gt)"/>
<rect x="143" y="44.8" width="445.7" height="4.1" fill="url(#gt)"/>
<rect x="50.6" y="45.6" width="3.1" height="505.9" fill="#7a7a7a"/>
<rect x="676.9" y="45.6" width="2.2" height="505.9" fill="#b8b8b8"/>
<rect x="50.6" y="549.3" width="628.5" height="2.2" fill="#b8b8b8"/>
<path d="M55.5 164.87V179.28M56.5 165.97V178.46M57.5 164.45V181.82M58.5 167.76V177.78M59.5 167.31V180.65M60.5 169.99V181M61.5 169.35V179.68M62.5 170.14V181.12M63.5 168.55V178.16M64.5 169V180.92M65.5 165.57V179.26M66.5 167.69V181.74M67.5 167.22V177.36M68.5 162.38V180.29M69.5 168.54V180.48M70.5 168.68V181.87M71.5 166.2V183.06M72.5 165.04V182.61M73.5 168.66V179.34M74.5 170.36V179.91M75.5 164.32V183.17M76.5 170.7V189.2M77.5 169.99V185.35M78.5 171.8V184.62M79.5 171.85V184.3M80.5 170.94V182.59M81.5 166.58V178.25M82.5 169.99V182.47M83.5 171.37V177.46M84.5 172.02V177.32M85.5 171.13V187.13M86.5 171.12V188.85M87.5 167.29V185.8M88.5 167.35V177.96M89.5 167.89V179.99M90.5 163.05V178.08M91.5 166.54V177.73M92.5 166.82V180.6M93.5 165.71V179.47M94.5 168.63V183.3M95.5 165.78V181.08M96.5 165.81V180.47M97.5 171.83V183.4M98.5 171.53V180.61M99.5 171.12V180.2M100.5 167.29V183.52M101.5 169.67V180.68M102.5 171.74V182.55M103.5 170.13V179.64M104.5 169.67V182.57M105.5 166.51V180.99M106.5 163.39V181.21M107.5 162.32V181M108.5 166.4V179.34M109.5 163.36V177.6M110.5 166.52V185.13M111.5 170.84V178.97M112.5 169.04V179.08M113.5 165.23V183.96M114.5 169.81V184.02M115.5 168.57V184.73M116.5 170.93V183.27M117.5 164.56V187.91M118.5 170.6V187.8M119.5 169.88V184.89M120.5 168.71V185.73M121.5 167.61V185.28M122.5 169.94V178.79M123.5 168.62V182.49M124.5 162.69V185.7M125.5 165.71V182.96M126.5 161.68V183.8M127.5 163.63V184.57M128.5 163.34V183.77M129.5 166.15V183.78M130.5 166.12V185.34M131.5 163.75V184.71M132.5 161.16V186.75M133.5 169.54V189.4M134.5 170.34V187.24M135.5 167.33V187.31M136.5 168.86V186.05M137.5 169.29V187.98M138.5 165.51V180.71M139.5 168.57V182.97M140.5 167.49V177.92M141.5 170.16V180.15M142.5 169.24V178.87M143.5 165.45V179.44M144.5 168.88V178.61M145.5 169.65V179.59M146.5 167.13V181.56M147.5 164.72V180.64M148.5 161.82V181.93M149.5 169.13V187.19M150.5 164.18V188.71M151.5 166.46V187.36M152.5 167.83V189.4M153.5 171.36V185.53M154.5 167.74V182.81M155.5 167.39V183.54M156.5 169.41V184.98M157.5 169.4V181.13M158.5 163.49V184.7M159.5 170.06V184.82M160.5 163.07V185.28M161.5 171.29V185.06M162.5 168.77V184.51M163.5 164.29V188.27M164.5 167.78V187.45M165.5 165.85V182.47M166.5 160.57V189.06M167.5 162.72V183.3M168.5 165.76V179.83M169.5 165.86V181.25M170.5 161.93V183M171.5 167.1V179.51M172.5 165.71V185.66M173.5 168.32V177.28M174.5 163V178.3M175.5 163.87V180.58M176.5 169.63V179.09M177.5 170.58V177.62M178.5 165.46V178.93M179.5 169.39V177.77M180.5 165.03V177.57M181.5 165.75V178.34M182.5 167.36V179.81M183.5 167.63V184.23M184.5 169.35V180.45M185.5 171.18V178.29M186.5 169.66V179.01M187.5 171.45V181.3M188.5 170.48V182.67M189.5 164.5V184.69M190.5 162.75V183.21M191.5 162.3V179.32M192.5 162.85V178.18M193.5 162.2V181.99M194.5 165.05V183.01M195.5 170.02V182.72M196.5 169.38V184.6M197.5 169.34V179.28M198.5 168V181.59M199.5 169.27V185.17M200.5 172.16V182.53M201.5 169.1V179.78M202.5 170.05V182.28M203.5 170.58V182.45M204.5 169.94V179.96M205.5 170.46V181.45M206.5 171.29V180.57M207.5 166.44V181.11M208.5 166.12V178.18M209.5 164.62V178.92M210.5 163.31V180.45M211.5 161.66V178.04M212.5 165.8V178.37M213.5 165.65V178.08M214.5 164.88V178.83M215.5 163.38V179.44M216.5 165.32V179.39M217.5 164.38V177.71M218.5 164.53V179.31M219.5 167.57V177.39M220.5 167.69V181.78M221.5 170.55V185.39M222.5 166.21V177.68M223.5 165.75V177.67M224.5 170.94V184.11M225.5 166.44V185.67M226.5 166.96V180.34M227.5 166.93V185.23M228.5 164.93V179.56M229.5 163.13V180.24M230.5 167.86V179.3M231.5 168.03V178.17M232.5 166.71V181.87M233.5 169.84V187.92M234.5 166.88V183.15M235.5 171.1V184.84M236.5 160.11V187.57M237.5 167.83V185.73M238.5 171.06V182.91M239.5 167.8V178.43M240.5 169.95V177.93M241.5 170.53V177.96M242.5 165.97V179.56M243.5 168.42V181.06M244.5 170.14V180.11M245.5 167.73V180.93M246.5 169.04V179.33M247.5 171.69V181.1M248.5 171.5V181.31M249.5 167.58V183.19M250.5 168.47V179.52M251.5 164.12V178.82M252.5 168.57V182.08M253.5 168.59V179.77M254.5 170.13V181.46M255.5 169.16V177.82M256.5 170.87V181.46M257.5 166.97V184.47M258.5 164.38V189.4M259.5 165.91V185.93M260.5 162.37V183.32M261.5 165.03V182.12M262.5 167.65V183.36M263.5 165.51V177.89M264.5 167.77V181.44M265.5 164.33V181.94M266.5 169.69V182.14M267.5 171.2V180.46M268.5 170.71V184.52M269.5 167.78V186.31M270.5 164.35V185.66M271.5 168.67V185.84M272.5 166.59V184.92M273.5 163.04V189.4M274.5 166.11V187.15M275.5 166.82V188.3M276.5 170.77V187.59M277.5 169.97V188.99M278.5 169.5V189.4M279.5 171.28V185.73M280.5 169.03V185.71M281.5 169.08V185.95M282.5 170.33V179.87M283.5 170.64V180.42M284.5 168.1V181.45M285.5 170.14V178.85M286.5 166.99V179.35M287.5 164.31V177.79M288.5 161.48V181.74M289.5 166.44V180.19M290.5 168.29V184.3M291.5 163.72V178.39M292.5 169.95V181.05M293.5 170.05V186.38M294.5 169.38V187.54M295.5 171.75V183.28M296.5 168.49V185.15M297.5 170.63V184.77M298.5 170.44V187.68M299.5 167.69V186.55M300.5 169.85V187.23M301.5 167.85V181.43M302.5 162.23V181.27M303.5 162.64V185.52M304.5 164.31V183.36M305.5 163.01V183.93M306.5 166.26V182.07M307.5 163.32V185M308.5 164.99V184.51M309.5 164.86V187.7M310.5 164.78V182.15M311.5 165.75V189.4M312.5 164.69V183.87M313.5 164.97V183.16M314.5 167.12V181.93M315.5 165.94V179.35M316.5 163.33V178.75M317.5 167.83V178.76M318.5 169.37V178.77M319.5 167.33V181.74M320.5 169.33V182.67M321.5 169.04V179.87M322.5 170.89V188.4M323.5 169.69V184.5M324.5 170.28V181.36M325.5 170.04V178.56M326.5 172.19V179.94M327.5 166.92V178.75M328.5 171.09V179.63M329.5 168.98V178.48M330.5 171.86V185.83M331.5 161.77V184.98M332.5 167.94V189.4M333.5 165.04V185.52M334.5 166.4V185.19M335.5 167.46V184.99M336.5 160.15V185.53M337.5 167.13V189.4M338.5 167.38V188.51M339.5 168.92V181.98M340.5 167V177.89M341.5 167V182.71M342.5 168.11V181.01M343.5 168.43V178.67M344.5 165.97V182.25M345.5 170.18V179.97M346.5 170.85V184.78M347.5 171.24V178.04M348.5 171.29V179.74M349.5 168.65V182.18M350.5 168.39V182.22M351.5 171.97V177.31M352.5 167.58V184.53M353.5 169.59V178.11M354.5 170.43V177.28M355.5 169.39V178.44M356.5 166.51V177.96M357.5 167.4V178.28M358.5 167.35V178.09M359.5 165.55V178.73M360.5 164.33V177.55M361.5 168.21V178.56M362.5 171.31V178.77M363.5 167.46V180.22M364.5 171.31V183.53M365.5 171.19V180.7M366.5 171.86V182.69M367.5 165.9V182.51M368.5 164.98V178.32M369.5 165.08V181.3M370.5 166.19V182.75M371.5 168.93V178.95M372.5 165.51V189.4M373.5 165.97V186.53M374.5 167.22V189.18M375.5 168.7V189.28M376.5 170.07V185.74M377.5 166.23V189.4M378.5 163.65V189.15M379.5 168.9V185.27M380.5 165.09V183.74M381.5 169.96V182.21M382.5 165.47V179.95M383.5 171.17V183.1M384.5 170.43V184.55M385.5 166.5V185.3M386.5 164.72V185.75M387.5 164.88V186.11M388.5 165.28V184.87M389.5 164.91V189M390.5 164.94V188.86M391.5 158.23V189.4M392.5 166.16V187.07M393.5 165.08V185.48M394.5 162.82V182.95M395.5 164.98V185.2M396.5 165.91V179.9M397.5 169.93V178.11M398.5 168.36V178.45M399.5 167.19V180.37M400.5 161.53V179.87M401.5 169.13V178.82M402.5 170.25V181.35M403.5 163.4V177.54M404.5 164.66V181.97M405.5 162.45V182.82M406.5 168.13V187.12M407.5 167.57V182.24M408.5 169.52V180.9M409.5 166.98V183.46M410.5 165.36V180.92M411.5 164.86V180.99M412.5 161.4V177.81M413.5 167.47V180.73M414.5 166.84V184.48M415.5 168.82V182.09M416.5 169.54V178.43M417.5 170.55V179.28M418.5 168.77V179.09M419.5 166.66V178.48M420.5 167.51V180.79M421.5 170.33V179.34M422.5 171.09V180.77M423.5 166.91V179.18M424.5 170.67V180.14M425.5 168.56V178.19M426.5 166.53V177.88M427.5 166.6V178.42M428.5 165.05V181.54M429.5 166.73V181.71M430.5 169.47V182.17M431.5 166.44V181.45M432.5 165.81V184.3M433.5 167.48V182.52M434.5 163.82V181.71M435.5 162.47V181.48M436.5 162.2V186.46M437.5 166.82V179.58M438.5 169V180.15M439.5 168.62V189.35M440.5 171.39V179M441.5 169.51V177.95M442.5 170.33V179.69M443.5 168V179.66M444.5 171.72V179.1M445.5 171.74V180.46M446.5 171.86V183.01M447.5 168.58V185.04M448.5 168.78V179.2M449.5 171.07V178.09M450.5 166.48V181.17M451.5 164.78V179.52M452.5 162.43V180.3M453.5 165.53V178.91M454.5 167.08V184.53M455.5 166.43V184.76M456.5 169.32V182.17M457.5 168.46V184.69M458.5 164.33V189.4M459.5 169.44V184.46M460.5 169.26V182.91M461.5 167.49V181.05M462.5 167.69V181.66M463.5 164.75V189.34M464.5 167.04V183.83M465.5 164.71V185.66M466.5 164.67V183.26M467.5 161.48V183.89M468.5 165.85V182.03M469.5 164.17V181.19M470.5 162V181.3M471.5 168.22V177.37M472.5 170.77V181.44M473.5 172.01V180.17M474.5 171.69V180.37M475.5 172.02V183.26M476.5 169.65V179.35M477.5 168.06V180.53M478.5 169.8V186.8M479.5 171.69V180.66M480.5 171.63V184.15M481.5 170.82V183.19M482.5 165.03V181.2M483.5 167.32V183.66M484.5 164.9V181.57M485.5 167.06V180.4M486.5 166.45V178.83M487.5 164.9V178.18M488.5 170.65V181.08M489.5 168.99V188.27M490.5 171.3V182.82M491.5 169.28V181.07M492.5 169.99V181.25M493.5 170.52V184.3M494.5 171.97V185.44M495.5 171.54V178.56M496.5 171.66V178.35M497.5 167.77V181.09M498.5 171.85V181.15M499.5 170.88V183.32M500.5 166.77V184.01M501.5 168.15V189.4M502.5 166.4V185.55M503.5 158.99V188.31M504.5 165.98V186.54M505.5 169.25V186.49M506.5 167.87V186.74M507.5 164.76V185.49M508.5 166.32V183.43M509.5 163.28V184.59M510.5 165.35V180.29M511.5 158.23V179.74M512.5 167.52V180.46M513.5 168.55V183.16M514.5 169.71V184.76M515.5 166.3V189.25M516.5 167.69V185.29M517.5 166.7V184.94M518.5 171.04V186.93M519.5 168.13V188.05M520.5 166.97V181.62M521.5 166.46V178.66M522.5 170.72V182.32M523.5 166.62V181.24M524.5 167.39V178.73M525.5 166.8V179.4M526.5 161.59V182.17M527.5 164.97V186.59M528.5 167.35V185.89M529.5 165.6V184.6M530.5 165.99V183.63M531.5 167.72V183.9M532.5 169.78V182.35M533.5 171.5V177.81M534.5 165.92V180.9M535.5 171.97V181.66M536.5 169.54V179.57M537.5 164.17V182.21M538.5 165.02V180.55M539.5 171.61V181.47M540.5 171.56V179.89M541.5 169.6V177.83M542.5 171.65V179.26M543.5 169.7V181.29M544.5 171.32V180.14M545.5 169.12V178.91M546.5 163.7V182.34M547.5 169.98V181.45M548.5 168.96V179.7M549.5 169.49V185.81M550.5 168.54V181.08M551.5 167.49V181.93M552.5 169.29V183.54M553.5 167.34V187.63M554.5 167.62V180.99M555.5 169.42V180.07M556.5 171.41V184.24M557.5 169.22V182.11M558.5 171.56V182.2M559.5 171.1V181.5M560.5 170.23V177.92M561.5 165.58V178.32M562.5 167.6V177.91M563.5 165.92V181.07M564.5 164.18V181.61M565.5 164.1V182.21M566.5 158.84V187.7M567.5 163.96V189.14M568.5 167.2V185.01M569.5 170.65V185.32M570.5 164.47V186.82M571.5 167.64V185.61M572.5 165.24V186.78M573.5 167.91V182.8M574.5 168.94V181.34M575.5 168.84V181.65M576.5 167.21V181.66M577.5 165.22V181.96M578.5 167.2V182.4M579.5 166.36V179.05M580.5 166.62V184M581.5 169.32V181.62M582.5 167.24V178.44M583.5 169.43V179.11M584.5 171.35V184.64M585.5 167.7V179.1M586.5 165.39V178.91M587.5 160.25V178.49M588.5 166.52V177.6M589.5 170.74V184.18M590.5 168.05V182.56M591.5 167.87V183.84M592.5 169.31V182.51M593.5 168.56V179.08M594.5 167.98V181.2M595.5 169.41V180.21M596.5 170.36V177.74M597.5 170.86V179.57M598.5 172.05V178.89M599.5 169.61V178.46M600.5 164.5V182.13M601.5 164.54V178.32M602.5 164.34V181.81M603.5 157.34V177.69M604.5 164.69V184.89M605.5 166.62V177.4M606.5 163.27V179.99M607.5 166.31V181.64M608.5 166.09V187.36M609.5 170.04V187.6M610.5 168.65V189.08M611.5 167.79V189.2M612.5 167.49V187.98M613.5 165.84V186.76M614.5 169.02V186.08M615.5 170.79V184.42M616.5 167.77V184.9M617.5 170.43V186.19M618.5 171.97V178.99M619.5 170.15V177.98M620.5 171V180.29M621.5 169.51V180.07M622.5 172.07V178.25M623.5 170.02V182.31M624.5 164.59V180.66M625.5 167.75V179.41M626.5 163.76V180.74M627.5 166.65V179.63M628.5 166.74V178.74M629.5 164.64V182.09M630.5 171.71V178.87M631.5 167.36V179.05M632.5 166.18V177.93M633.5 171.59V182.52M634.5 169.3V177.98M635.5 171.32V177.77M636.5 166.42V178.41M637.5 167.59V179.89M638.5 167.76V177.62M639.5 165.02V180.26M640.5 169.48V184.32M641.5 167.07V186.77M642.5 169.07V179.42M643.5 168.13V178.56M644.5 170.86V177.59M645.5 171.9V181.69M646.5 168.73V179M647.5 171.66V179.55M648.5 171.17V177.48M649.5 170.61V178.79M650.5 169.83V183.69M651.5 161.49V178.09M652.5 166.32V182.48M653.5 163.73V184.15M654.5 163.22V185.95M655.5 166.46V182.71M656.5 168.19V183.2M657.5 166.21V181.24M658.5 166.83V180.47M659.5 168V177.64M660.5 163.95V177.51M661.5 165.48V178.1M662.5 165.38V177.81M663.5 162.62V181.42M664.5 166.05V182.29M665.5 164.41V179.33M666.5 165.52V181.5M667.5 162.63V185.25M668.5 164.53V185.07M669.5 165.37V183.91M670.5 164.03V184.43M671.5 168.19V186.92M672.5 165.2V189.14M673.5 170.18V186.83M674.5 170.03V183.57M675.5 165.85V179.69" stroke="#ff08ff" stroke-width="1.3"/>
<path d="M55 174.99 56 175.15 57 174.96 58 173.72 59 173.1 60 172.94 61 173.65 62 174.64 63 175.45 64 174.48 65 174.37 66 173.97 67 173.46 68 173.21 69 175.23 70 175.82 71 175.37 72 173.82 73 172.93 74 173.33 75 173.07 76 174.02 77 175.75 78 175.71 79 175.04 80 174.22 81 173.78 82 173.43 83 175.38 84 175.49 85 175.53 86 174.85 87 173.53 88 174.1 89 174.59 90 175.26 91 174.83 92 173.87 93 172.55 94 174.03 95 174.85 96 175.26 97 173.9 98 172.99 99 173.62 100 173.1 101 175.07 102 175.13 103 175.43 104 173.79 105 173.46 106 173.22 107 173.74 108 175.49 109 175.89 110 174.69 111 174.2 112 173.29 113 173.12 114 174.6 115 175.69 116 175.29 117 175.57 118 175.03 119 172.96 120 174.1 121 174.43 122 174.95 123 176.22 124 175.28 125 174.69 126 173.7 127 173.09 128 174.11 129 174.57 130 175.27 131 174.48 132 173.88 133 172.81 134 174.24 135 174.07 136 175.53 137 174.74 138 173.37 139 173.71 140 173.08 141 175.11 142 175.25 143 175.62 144 174.75 145 173.92 146 173.82 147 174.37 148 175.49 149 176.14 150 174.26 151 174.37 152 173.2 153 173.61 154 174.01 155 175.05 156 174.49 157 174.2 158 173.95 159 173.28 160 173.53 161 174.19 162 175 163 174.62 164 173.89 165 174.53 166 173.42 167 173.22 168 174.78 169 176.04 170 175.16 171 174.69 172 173.43 173 172.75 174 174.18 175 176.21 176 175.06 177 174.72 178 175.26 179 174.07 180 173.56 181 175.06 182 175.07 183 175.48 184 174.91 185 173.26 186 173.89 187 174.48 188 175.59 189 175.26 190 173.05 191 173.46 192 172.78 193 173.56 194 174.41 195 175.87 196 175.01 197 174.15 198 173.95 199 173.72 200 174.05 201 174.37 202 175.74 203 174.29 204 173.2 205 173.81 206 173.86 207 175.3 208 175.79 209 174.96 210 173.73 211 174 212 173.88 213 175.04 214 175.07 215 175.59 216 175.73 217 174.35 218 173.37 219 173.39 220 174.15 221 174.68 222 175.13 223 175.27 224 174.11 225 172.78 226 173.64 227 175.42 228 175.99 229 174.39 230 173.8 231 173.71 232 173.5 233 174.55 234 175.25 235 175.49 236 174.49 237 174.18 238 172.84 239 173.38 240 174.81 241 175.35 242 175.45 243 175.02 244 173.46 245 173.09 246 173.43 247 174.97 248 175.25 249 175.65 250 174.58 251 173.63 252 173.44 253 174.66 254 175.49 255 175.13 256 173.96 257 172.35 258 174.15 259 174.96 260 175.16 261 175.38 262 174.57 263 173.24 264 173.7 265 174.3 266 175.6 267 175.83 268 173.62 269 173.91 270 173.15 271 174.62 272 175.49 273 175.83 274 174.38 275 174.71 276 173.56 277 173.93 278 175.56 279 174.87 280 175.9 281 174.23 282 173.94 283 174.3 284 175.23 285 174.89 286 174.48 287 174.01 288 173.23 289 173.77 290 174.06 291 174.93 292 175.61 293 175.08 294 173.8 295 172.91 296 173.03 297 175.43 298 174.98 299 174.8 300 173.82 301 173.8 302 173.12 303 174.43 304 175.31 305 174.93 306 175.08 307 173.17 308 173.25 309 173.97 310 174.74 311 174.98 312 175.14 313 174.29 314 173.62 315 172.5 316 173.31 317 175.16 318 175.44 319 174.56 320 173.92 321 173.23 322 173.37 323 174.88 324 175.79 325 174.97 326 173.84 327 172.83 328 173.93 329 174.53 330 175.17 331 174.61 332 173.49 333 173.82 334 174.18 335 175.14 336 175.35 337 174.8 338 174 339 174.17 340 173.82 341 174.25 342 174.83 343 176.05 344 174.25 345 173.69 346 173.53 347 174.6 348 174.88 349 175.7 350 175.33 351 174.57 352 173.97 353 173.52 354 174.6 355 175.79 356 174.81 357 174.99 358 173.3 359 172.8 360 173.54 361 174.52 362 175.87 363 175.53 364 174.47 365 174.09 366 173.33 367 173.51 368 174.05 369 175.73 370 175.52 371 174.96 372 173.25 373 173.18 374 172.94 375 175.01 376 175.69 377 175.59 378 174.15 379 173.3 380 173.39 381 175.26 382 175.23 383 175.45 384 174.11 385 172.91 386 172.88 387 174.06 388 175.3 389 174.92 390 175.1 391 174.47 392 173.61 393 172.68 394 173.43 395 175.51 396 176.07 397 174.68 398 174.01 399 173.21 400 173.42 401 175.39 402 175.25 403 175.58 404 174.66 405 173.26 406 174.46 407 173.8 408 175.83 409 175.26 410 175.62 411 173.57 412 172.95 413 174.69 414 174.53 415 175.64 416 174.2 417 174.43 418 173.29 419 174.45 420 175.26 421 174.9 422 173.32 423 174.15 424 173.77 425 174.19 426 175.23 427 175.91 428 173.8 429 174.44 430 173.25 431 173.63 432 175.62 433 175.54 434 174.8 435 174.57 436 173.62 437 174.14 438 174.29 439 175 440 175.21 441 173.68 442 172.43 443 173.38 444 174.59 445 174.79 446 176.06 447 174.51 448 173.47 449 172.79 450 174.38 451 175.41 452 175.46 453 174.16 454 173.95 455 172.36 456 174.4 457 175.28 458 174.76 459 174.54 460 173.22 461 173.49 462 173.78 463 175.42 464 175.08 465 175.77 466 174.56 467 174.51 468 173.24 469 173.77 470 175.33 471 175.28 472 174.67 473 174.52 474 173.65 475 173.01 476 173.36 477 174.3 478 175.45 479 174.86 480 175.79 481 173.89 482 173.74 483 173.02 484 174.8 485 175.39 486 175.74 487 174.7 488 172.8 489 173.85 490 173.43 491 175.38 492 175.41 493 174.81 494 174.95 495 173.68 496 172.89 497 173.84 498 175.5 499 174.8 500 174.6 501 175.01 502 173 503 173.55 504 174.41 505 175.3 506 175.9 507 174.05 508 174.07 509 174.16 510 172.95 511 174.51 512 174.8 513 174.94 514 175.54 515 174.97 516 173.14 517 173.62 518 174.07 519 175.07 520 175.53 521 175.09 522 173.81 523 173.48 524 174.96 525 174.39 526 174.62 527 175.67 528 174.77 529 173.18 530 174.09 531 173.25 532 173.82 533 175.45 534 175.77 535 175.95 536 172.89 537 172.79 538 173.89 539 174.71 540 175.45 541 174.61 542 173.16 543 173.12 544 174.09 545 175.14 546 175.2 547 175.18 548 174.41 549 173.23 550 173.39 551 174.58 552 176.49 553 175.56 554 174.48 555 174.17 556 173.2 557 173.91 558 173.54 559 174.87 560 175.76 561 175.07 562 174.22 563 173.75 564 172.87 565 174.3 566 174.64 567 174.91 568 175.51 569 174 570 173.41 571 173.61 572 173.62 573 175.15 574 176.52 575 174.71 576 174.04 577 173.66 578 173.38 579 174.07 580 175.48 581 174.1 582 174.31 583 173.62 584 173.62 585 174.51 586 175.9 587 175.22 588 174.89 589 173.7 590 173.55 591 174 592 175.23 593 175.14 594 175.46 595 174.44 596 173.02 597 173.29 598 174.69 599 175.48 600 175.2 601 174.14 602 174.19 603 174.53 604 174.74 605 175.21 606 174.83 607 174.67 608 173.71 609 173.35 610 174.14 611 175.1 612 174.34 613 175.09 614 174.14 615 173.35 616 172.98 617 174.52 618 175.33 619 176.33 620 175.35 621 174.03 622 173.32 623 173.22 624 174.69 625 174.84 626 175.39 627 174.95 628 174.13 629 173.77 630 174.28 631 175.81 632 175.35 633 173.67 634 173.82 635 173.34 636 172.8 637 174.51 638 174.19 639 175.17 640 175.01 641 173.49 642 173.91 643 174.05 644 174.81 645 174.59 646 175.14 647 174.15 648 172.65 649 173.52 650 174.97 651 175.02 652 175.66 653 174.13 654 173.42 655 173.64 656 173.37 657 174.37 658 174.85 659 174.69 660 173.48 661 173.26 662 173.81 663 175.42 664 175.17 665 176.15 666 175.05 667 173.6 668 173.57 669 174.11 670 174.86 671 175.67 672 175.41 673 175.36 674 173.76 675 173.4 676 173.66" stroke="#12f0f4" stroke-width="2.5" fill="none" stroke-linejoin="round"/>
<path d="M53.8 49.27H676.7M53.8 548.05H676.7" stroke="#2e2e2e" stroke-width="1.3" stroke-dasharray="1.3 1.19"/>
<path d="M54 49.07V548.05M676.6 49.07V548.05" stroke="#2e2e2e" stroke-width="1.3" stroke-dasharray="1.3 1.19"/>
<path d="M67.43 49.27v1.6M67.43 548.05v-1.6M79.85 49.27v1.6M79.85 548.05v-1.6M92.28 49.27v1.6M92.28 548.05v-1.6M104.7 49.27v1.6M104.7 548.05v-1.6M117.13 49.27v1.6M117.13 548.05v-1.6M129.56 49.27v1.6M129.56 548.05v-1.6M141.98 49.27v1.6M141.98 548.05v-1.6M154.41 49.27v1.6M154.41 548.05v-1.6M166.83 49.27v1.6M166.83 548.05v-1.6M179.26 49.27v1.6M179.26 548.05v-1.6M191.69 49.27v1.6M191.69 548.05v-1.6M204.11 49.27v1.6M204.11 548.05v-1.6M216.54 49.27v1.6M216.54 548.05v-1.6M228.96 49.27v1.6M228.96 548.05v-1.6M241.39 49.27v1.6M241.39 548.05v-1.6M253.82 49.27v1.6M253.82 548.05v-1.6M266.24 49.27v1.6M266.24 548.05v-1.6M278.67 49.27v1.6M278.67 548.05v-1.6M291.09 49.27v1.6M291.09 548.05v-1.6M303.52 49.27v1.6M303.52 548.05v-1.6M315.95 49.27v1.6M315.95 548.05v-1.6M328.37 49.27v1.6M328.37 548.05v-1.6M340.8 49.27v1.6M340.8 548.05v-1.6M353.22 49.27v1.6M353.22 548.05v-1.6M365.65 49.27v1.6M365.65 548.05v-1.6M378.08 49.27v1.6M378.08 548.05v-1.6M390.5 49.27v1.6M390.5 548.05v-1.6M402.93 49.27v1.6M402.93 548.05v-1.6M415.35 49.27v1.6M415.35 548.05v-1.6M427.78 49.27v1.6M427.78 548.05v-1.6M440.21 49.27v1.6M440.21 548.05v-1.6M452.63 49.27v1.6M452.63 548.05v-1.6M465.06 49.27v1.6M465.06 548.05v-1.6M477.48 49.27v1.6M477.48 548.05v-1.6M489.91 49.27v1.6M489.91 548.05v-1.6M502.34 49.27v1.6M502.34 548.05v-1.6M514.76 49.27v1.6M514.76 548.05v-1.6M527.19 49.27v1.6M527.19 548.05v-1.6M539.61 49.27v1.6M539.61 548.05v-1.6M552.04 49.27v1.6M552.04 548.05v-1.6M564.47 49.27v1.6M564.47 548.05v-1.6M576.89 49.27v1.6M576.89 548.05v-1.6M589.32 49.27v1.6M589.32 548.05v-1.6M601.74 49.27v1.6M601.74 548.05v-1.6M614.17 49.27v1.6M614.17 548.05v-1.6M626.6 49.27v1.6M626.6 548.05v-1.6M639.02 49.27v1.6M639.02 548.05v-1.6M651.45 49.27v1.6M651.45 548.05v-1.6M663.87 49.27v1.6M663.87 548.05v-1.6M54 62.7h1.6M676.6 62.7h-1.6M54 75.13h1.6M676.6 75.13h-1.6M54 87.57h1.6M676.6 87.57h-1.6M54 100h1.6M676.6 100h-1.6M54 112.43h1.6M676.6 112.43h-1.6M54 124.86h1.6M676.6 124.86h-1.6M54 137.29h1.6M676.6 137.29h-1.6M54 149.73h1.6M676.6 149.73h-1.6M54 162.16h1.6M676.6 162.16h-1.6M54 174.59h1.6M676.6 174.59h-1.6M54 187.02h1.6M676.6 187.02h-1.6M54 199.45h1.6M676.6 199.45h-1.6M54 211.89h1.6M676.6 211.89h-1.6M54 224.32h1.6M676.6 224.32h-1.6M54 236.75h1.6M676.6 236.75h-1.6M54 249.18h1.6M676.6 249.18h-1.6M54 261.61h1.6M676.6 261.61h-1.6M54 274.05h1.6M676.6 274.05h-1.6M54 286.48h1.6M676.6 286.48h-1.6M54 298.91h1.6M676.6 298.91h-1.6M54 311.34h1.6M676.6 311.34h-1.6M54 323.77h1.6M676.6 323.77h-1.6M54 336.21h1.6M676.6 336.21h-1.6M54 348.64h1.6M676.6 348.64h-1.6M54 361.07h1.6M676.6 361.07h-1.6M54 373.5h1.6M676.6 373.5h-1.6M54 385.93h1.6M676.6 385.93h-1.6M54 398.37h1.6M676.6 398.37h-1.6M54 410.8h1.6M676.6 410.8h-1.6M54 423.23h1.6M676.6 423.23h-1.6M54 435.66h1.6M676.6 435.66h-1.6M54 448.09h1.6M676.6 448.09h-1.6M54 460.53h1.6M676.6 460.53h-1.6M54 472.96h1.6M676.6 472.96h-1.6M54 485.39h1.6M676.6 485.39h-1.6M54 497.82h1.6M676.6 497.82h-1.6M54 510.25h1.6M676.6 510.25h-1.6M54 522.69h1.6M676.6 522.69h-1.6M54 535.12h1.6M676.6 535.12h-1.6" stroke="#2e2e2e" stroke-width="1.3"/>
<path d="M66.68 53.07h1.5M66.68 543.95h1.5M79.1 53.07h1.5M79.1 543.95h1.5M91.53 53.07h1.5M91.53 543.95h1.5M103.95 53.07h1.5M103.95 543.95h1.5M116.38 53.07h1.5M116.38 543.95h1.5M128.81 53.07h1.5M128.81 543.95h1.5M141.23 53.07h1.5M141.23 543.95h1.5M153.66 53.07h1.5M153.66 543.95h1.5M166.08 53.07h1.5M166.08 543.95h1.5M178.51 53.07h1.5M178.51 543.95h1.5M190.94 53.07h1.5M190.94 543.95h1.5M203.36 53.07h1.5M203.36 543.95h1.5M215.79 53.07h1.5M215.79 543.95h1.5M228.21 53.07h1.5M228.21 543.95h1.5M240.64 53.07h1.5M240.64 543.95h1.5M253.07 53.07h1.5M253.07 543.95h1.5M265.49 53.07h1.5M265.49 543.95h1.5M277.92 53.07h1.5M277.92 543.95h1.5M290.34 53.07h1.5M290.34 543.95h1.5M302.77 53.07h1.5M302.77 543.95h1.5M315.2 53.07h1.5M315.2 543.95h1.5M327.62 53.07h1.5M327.62 543.95h1.5M340.05 53.07h1.5M340.05 543.95h1.5M352.47 53.07h1.5M352.47 543.95h1.5M364.9 53.07h1.5M364.9 543.95h1.5M377.33 53.07h1.5M377.33 543.95h1.5M389.75 53.07h1.5M389.75 543.95h1.5M402.18 53.07h1.5M402.18 543.95h1.5M414.6 53.07h1.5M414.6 543.95h1.5M427.03 53.07h1.5M427.03 543.95h1.5M439.46 53.07h1.5M439.46 543.95h1.5M451.88 53.07h1.5M451.88 543.95h1.5M464.31 53.07h1.5M464.31 543.95h1.5M476.73 53.07h1.5M476.73 543.95h1.5M489.16 53.07h1.5M489.16 543.95h1.5M501.59 53.07h1.5M501.59 543.95h1.5M514.01 53.07h1.5M514.01 543.95h1.5M526.44 53.07h1.5M526.44 543.95h1.5M538.86 53.07h1.5M538.86 543.95h1.5M551.29 53.07h1.5M551.29 543.95h1.5M563.72 53.07h1.5M563.72 543.95h1.5M576.14 53.07h1.5M576.14 543.95h1.5M588.57 53.07h1.5M588.57 543.95h1.5M600.99 53.07h1.5M600.99 543.95h1.5M613.42 53.07h1.5M613.42 543.95h1.5M625.85 53.07h1.5M625.85 543.95h1.5M638.27 53.07h1.5M638.27 543.95h1.5M650.7 53.07h1.5M650.7 543.95h1.5M663.12 53.07h1.5M663.12 543.95h1.5M57.05 62.7h1.5M672.15 62.7h1.5M57.05 75.13h1.5M672.15 75.13h1.5M57.05 87.57h1.5M672.15 87.57h1.5M57.05 100h1.5M672.15 100h1.5M57.05 112.43h1.5M672.15 112.43h1.5M57.05 124.86h1.5M672.15 124.86h1.5M57.05 137.29h1.5M672.15 137.29h1.5M57.05 149.73h1.5M672.15 149.73h1.5M57.05 162.16h1.5M672.15 162.16h1.5M57.05 174.59h1.5M672.15 174.59h1.5M57.05 187.02h1.5M672.15 187.02h1.5M57.05 199.45h1.5M672.15 199.45h1.5M57.05 211.89h1.5M672.15 211.89h1.5M57.05 224.32h1.5M672.15 224.32h1.5M57.05 236.75h1.5M672.15 236.75h1.5M57.05 249.18h1.5M672.15 249.18h1.5M57.05 261.61h1.5M672.15 261.61h1.5M57.05 274.05h1.5M672.15 274.05h1.5M57.05 286.48h1.5M672.15 286.48h1.5M57.05 298.91h1.5M672.15 298.91h1.5M57.05 311.34h1.5M672.15 311.34h1.5M57.05 323.77h1.5M672.15 323.77h1.5M57.05 336.21h1.5M672.15 336.21h1.5M57.05 348.64h1.5M672.15 348.64h1.5M57.05 361.07h1.5M672.15 361.07h1.5M57.05 373.5h1.5M672.15 373.5h1.5M57.05 385.93h1.5M672.15 385.93h1.5M57.05 398.37h1.5M672.15 398.37h1.5M57.05 410.8h1.5M672.15 410.8h1.5M57.05 423.23h1.5M672.15 423.23h1.5M57.05 435.66h1.5M672.15 435.66h1.5M57.05 448.09h1.5M672.15 448.09h1.5M57.05 460.53h1.5M672.15 460.53h1.5M57.05 472.96h1.5M672.15 472.96h1.5M57.05 485.39h1.5M672.15 485.39h1.5M57.05 497.82h1.5M672.15 497.82h1.5M57.05 510.25h1.5M672.15 510.25h1.5M57.05 522.69h1.5M672.15 522.69h1.5M57.05 535.12h1.5M672.15 535.12h1.5M116.38 62.7h1.5M116.38 75.13h1.5M116.38 87.57h1.5M116.38 100h1.5M116.38 112.43h1.5M116.38 124.86h1.5M116.38 137.29h1.5M116.38 149.73h1.5M116.38 162.16h1.5M116.38 174.59h1.5M116.38 187.02h1.5M116.38 199.45h1.5M116.38 211.89h1.5M116.38 224.32h1.5M116.38 236.75h1.5M116.38 249.18h1.5M116.38 261.61h1.5M116.38 274.05h1.5M116.38 286.48h1.5M116.38 298.91h1.5M116.38 311.34h1.5M116.38 323.77h1.5M116.38 336.21h1.5M116.38 348.64h1.5M116.38 361.07h1.5M116.38 373.5h1.5M116.38 385.93h1.5M116.38 398.37h1.5M116.38 410.8h1.5M116.38 423.23h1.5M116.38 435.66h1.5M116.38 448.09h1.5M116.38 460.53h1.5M116.38 472.96h1.5M116.38 485.39h1.5M116.38 497.82h1.5M116.38 510.25h1.5M116.38 522.69h1.5M116.38 535.12h1.5M116.38 54.67h1.5M116.38 543.15h1.5M116.38 56.87h1.5M116.38 540.95h1.5M178.51 62.7h1.5M178.51 75.13h1.5M178.51 87.57h1.5M178.51 100h1.5M178.51 112.43h1.5M178.51 124.86h1.5M178.51 137.29h1.5M178.51 149.73h1.5M178.51 162.16h1.5M178.51 174.59h1.5M178.51 187.02h1.5M178.51 199.45h1.5M178.51 211.89h1.5M178.51 224.32h1.5M178.51 236.75h1.5M178.51 249.18h1.5M178.51 261.61h1.5M178.51 274.05h1.5M178.51 286.48h1.5M178.51 298.91h1.5M178.51 311.34h1.5M178.51 323.77h1.5M178.51 336.21h1.5M178.51 348.64h1.5M178.51 361.07h1.5M178.51 373.5h1.5M178.51 385.93h1.5M178.51 398.37h1.5M178.51 410.8h1.5M178.51 423.23h1.5M178.51 435.66h1.5M178.51 448.09h1.5M178.51 460.53h1.5M178.51 472.96h1.5M178.51 485.39h1.5M178.51 497.82h1.5M178.51 510.25h1.5M178.51 522.69h1.5M178.51 535.12h1.5M178.51 54.67h1.5M178.51 543.15h1.5M178.51 56.87h1.5M178.51 540.95h1.5M240.64 62.7h1.5M240.64 75.13h1.5M240.64 87.57h1.5M240.64 100h1.5M240.64 112.43h1.5M240.64 124.86h1.5M240.64 137.29h1.5M240.64 149.73h1.5M240.64 162.16h1.5M240.64 174.59h1.5M240.64 187.02h1.5M240.64 199.45h1.5M240.64 211.89h1.5M240.64 224.32h1.5M240.64 236.75h1.5M240.64 249.18h1.5M240.64 261.61h1.5M240.64 274.05h1.5M240.64 286.48h1.5M240.64 298.91h1.5M240.64 311.34h1.5M240.64 323.77h1.5M240.64 336.21h1.5M240.64 348.64h1.5M240.64 361.07h1.5M240.64 373.5h1.5M240.64 385.93h1.5M240.64 398.37h1.5M240.64 410.8h1.5M240.64 423.23h1.5M240.64 435.66h1.5M240.64 448.09h1.5M240.64 460.53h1.5M240.64 472.96h1.5M240.64 485.39h1.5M240.64 497.82h1.5M240.64 510.25h1.5M240.64 522.69h1.5M240.64 535.12h1.5M240.64 54.67h1.5M240.64 543.15h1.5M240.64 56.87h1.5M240.64 540.95h1.5M302.77 62.7h1.5M302.77 75.13h1.5M302.77 87.57h1.5M302.77 100h1.5M302.77 112.43h1.5M302.77 124.86h1.5M302.77 137.29h1.5M302.77 149.73h1.5M302.77 162.16h1.5M302.77 174.59h1.5M302.77 187.02h1.5M302.77 199.45h1.5M302.77 211.89h1.5M302.77 224.32h1.5M302.77 236.75h1.5M302.77 249.18h1.5M302.77 261.61h1.5M302.77 274.05h1.5M302.77 286.48h1.5M302.77 298.91h1.5M302.77 311.34h1.5M302.77 323.77h1.5M302.77 336.21h1.5M302.77 348.64h1.5M302.77 361.07h1.5M302.77 373.5h1.5M302.77 385.93h1.5M302.77 398.37h1.5M302.77 410.8h1.5M302.77 423.23h1.5M302.77 435.66h1.5M302.77 448.09h1.5M302.77 460.53h1.5M302.77 472.96h1.5M302.77 485.39h1.5M302.77 497.82h1.5M302.77 510.25h1.5M302.77 522.69h1.5M302.77 535.12h1.5M302.77 54.67h1.5M302.77 543.15h1.5M302.77 56.87h1.5M302.77 540.95h1.5M427.03 62.7h1.5M427.03 75.13h1.5M427.03 87.57h1.5M427.03 100h1.5M427.03 112.43h1.5M427.03 124.86h1.5M427.03 137.29h1.5M427.03 149.73h1.5M427.03 162.16h1.5M427.03 174.59h1.5M427.03 187.02h1.5M427.03 199.45h1.5M427.03 211.89h1.5M427.03 224.32h1.5M427.03 236.75h1.5M427.03 249.18h1.5M427.03 261.61h1.5M427.03 274.05h1.5M427.03 286.48h1.5M427.03 298.91h1.5M427.03 311.34h1.5M427.03 323.77h1.5M427.03 336.21h1.5M427.03 348.64h1.5M427.03 361.07h1.5M427.03 373.5h1.5M427.03 385.93h1.5M427.03 398.37h1.5M427.03 410.8h1.5M427.03 423.23h1.5M427.03 435.66h1.5M427.03 448.09h1.5M427.03 460.53h1.5M427.03 472.96h1.5M427.03 485.39h1.5M427.03 497.82h1.5M427.03 510.25h1.5M427.03 522.69h1.5M427.03 535.12h1.5M427.03 54.67h1.5M427.03 543.15h1.5M427.03 56.87h1.5M427.03 540.95h1.5M489.16 62.7h1.5M489.16 75.13h1.5M489.16 87.57h1.5M489.16 100h1.5M489.16 112.43h1.5M489.16 124.86h1.5M489.16 137.29h1.5M489.16 149.73h1.5M489.16 162.16h1.5M489.16 174.59h1.5M489.16 187.02h1.5M489.16 199.45h1.5M489.16 211.89h1.5M489.16 224.32h1.5M489.16 236.75h1.5M489.16 249.18h1.5M489.16 261.61h1.5M489.16 274.05h1.5M489.16 286.48h1.5M489.16 298.91h1.5M489.16 311.34h1.5M489.16 323.77h1.5M489.16 336.21h1.5M489.16 348.64h1.5M489.16 361.07h1.5M489.16 373.5h1.5M489.16 385.93h1.5M489.16 398.37h1.5M489.16 410.8h1.5M489.16 423.23h1.5M489.16 435.66h1.5M489.16 448.09h1.5M489.16 460.53h1.5M489.16 472.96h1.5M489.16 485.39h1.5M489.16 497.82h1.5M489.16 510.25h1.5M489.16 522.69h1.5M489.16 535.12h1.5M489.16 54.67h1.5M489.16 543.15h1.5M489.16 56.87h1.5M489.16 540.95h1.5M551.29 62.7h1.5M551.29 75.13h1.5M551.29 87.57h1.5M551.29 100h1.5M551.29 112.43h1.5M551.29 124.86h1.5M551.29 137.29h1.5M551.29 149.73h1.5M551.29 162.16h1.5M551.29 174.59h1.5M551.29 187.02h1.5M551.29 199.45h1.5M551.29 211.89h1.5M551.29 224.32h1.5M551.29 236.75h1.5M551.29 249.18h1.5M551.29 261.61h1.5M551.29 274.05h1.5M551.29 286.48h1.5M551.29 298.91h1.5M551.29 311.34h1.5M551.29 323.77h1.5M551.29 336.21h1.5M551.29 348.64h1.5M551.29 361.07h1.5M551.29 373.5h1.5M551.29 385.93h1.5M551.29 398.37h1.5M551.29 410.8h1.5M551.29 423.23h1.5M551.29 435.66h1.5M551.29 448.09h1.5M551.29 460.53h1.5M551.29 472.96h1.5M551.29 485.39h1.5M551.29 497.82h1.5M551.29 510.25h1.5M551.29 522.69h1.5M551.29 535.12h1.5M551.29 54.67h1.5M551.29 543.15h1.5M551.29 56.87h1.5M551.29 540.95h1.5M613.42 62.7h1.5M613.42 75.13h1.5M613.42 87.57h1.5M613.42 100h1.5M613.42 112.43h1.5M613.42 124.86h1.5M613.42 137.29h1.5M613.42 149.73h1.5M613.42 162.16h1.5M613.42 174.59h1.5M613.42 187.02h1.5M613.42 199.45h1.5M613.42 211.89h1.5M613.42 224.32h1.5M613.42 236.75h1.5M613.42 249.18h1.5M613.42 261.61h1.5M613.42 274.05h1.5M613.42 286.48h1.5M613.42 298.91h1.5M613.42 311.34h1.5M613.42 323.77h1.5M613.42 336.21h1.5M613.42 348.64h1.5M613.42 361.07h1.5M613.42 373.5h1.5M613.42 385.93h1.5M613.42 398.37h1.5M613.42 410.8h1.5M613.42 423.23h1.5M613.42 435.66h1.5M613.42 448.09h1.5M613.42 460.53h1.5M613.42 472.96h1.5M613.42 485.39h1.5M613.42 497.82h1.5M613.42 510.25h1.5M613.42 522.69h1.5M613.42 535.12h1.5M613.42 54.67h1.5M613.42 543.15h1.5M613.42 56.87h1.5M613.42 540.95h1.5M58.65 112.43h1.5M671.15 112.43h1.5M60.85 112.43h1.5M668.95 112.43h1.5M58.65 174.59h1.5M671.15 174.59h1.5M60.85 174.59h1.5M668.95 174.59h1.5M58.65 236.75h1.5M671.15 236.75h1.5M60.85 236.75h1.5M668.95 236.75h1.5M58.65 361.07h1.5M671.15 361.07h1.5M60.85 361.07h1.5M668.95 361.07h1.5M58.65 423.23h1.5M671.15 423.23h1.5M60.85 423.23h1.5M668.95 423.23h1.5M58.65 485.39h1.5M671.15 485.39h1.5M60.85 485.39h1.5M668.95 485.39h1.5M66.68 112.43h1.5M79.1 112.43h1.5M91.53 112.43h1.5M103.95 112.43h1.5M116.38 112.43h1.5M128.81 112.43h1.5M141.23 112.43h1.5M153.66 112.43h1.5M166.08 112.43h1.5M178.51 112.43h1.5M190.94 112.43h1.5M203.36 112.43h1.5M215.79 112.43h1.5M228.21 112.43h1.5M240.64 112.43h1.5M253.07 112.43h1.5M265.49 112.43h1.5M277.92 112.43h1.5M290.34 112.43h1.5M302.77 112.43h1.5M315.2 112.43h1.5M327.62 112.43h1.5M340.05 112.43h1.5M352.47 112.43h1.5M364.9 112.43h1.5M377.33 112.43h1.5M389.75 112.43h1.5M402.18 112.43h1.5M414.6 112.43h1.5M427.03 112.43h1.5M439.46 112.43h1.5M451.88 112.43h1.5M464.31 112.43h1.5M476.73 112.43h1.5M489.16 112.43h1.5M501.59 112.43h1.5M514.01 112.43h1.5M526.44 112.43h1.5M538.86 112.43h1.5M551.29 112.43h1.5M563.72 112.43h1.5M576.14 112.43h1.5M588.57 112.43h1.5M600.99 112.43h1.5M613.42 112.43h1.5M625.85 112.43h1.5M638.27 112.43h1.5M650.7 112.43h1.5M663.12 112.43h1.5M66.68 174.59h1.5M79.1 174.59h1.5M91.53 174.59h1.5M103.95 174.59h1.5M116.38 174.59h1.5M128.81 174.59h1.5M141.23 174.59h1.5M153.66 174.59h1.5M166.08 174.59h1.5M178.51 174.59h1.5M190.94 174.59h1.5M203.36 174.59h1.5M215.79 174.59h1.5M228.21 174.59h1.5M240.64 174.59h1.5M253.07 174.59h1.5M265.49 174.59h1.5M277.92 174.59h1.5M290.34 174.59h1.5M302.77 174.59h1.5M315.2 174.59h1.5M327.62 174.59h1.5M340.05 174.59h1.5M352.47 174.59h1.5M364.9 174.59h1.5M377.33 174.59h1.5M389.75 174.59h1.5M402.18 174.59h1.5M414.6 174.59h1.5M427.03 174.59h1.5M439.46 174.59h1.5M451.88 174.59h1.5M464.31 174.59h1.5M476.73 174.59h1.5M489.16 174.59h1.5M501.59 174.59h1.5M514.01 174.59h1.5M526.44 174.59h1.5M538.86 174.59h1.5M551.29 174.59h1.5M563.72 174.59h1.5M576.14 174.59h1.5M588.57 174.59h1.5M600.99 174.59h1.5M613.42 174.59h1.5M625.85 174.59h1.5M638.27 174.59h1.5M650.7 174.59h1.5M663.12 174.59h1.5M66.68 236.75h1.5M79.1 236.75h1.5M91.53 236.75h1.5M103.95 236.75h1.5M116.38 236.75h1.5M128.81 236.75h1.5M141.23 236.75h1.5M153.66 236.75h1.5M166.08 236.75h1.5M178.51 236.75h1.5M190.94 236.75h1.5M203.36 236.75h1.5M215.79 236.75h1.5M228.21 236.75h1.5M240.64 236.75h1.5M253.07 236.75h1.5M265.49 236.75h1.5M277.92 236.75h1.5M290.34 236.75h1.5M302.77 236.75h1.5M315.2 236.75h1.5M327.62 236.75h1.5M340.05 236.75h1.5M352.47 236.75h1.5M364.9 236.75h1.5M377.33 236.75h1.5M389.75 236.75h1.5M402.18 236.75h1.5M414.6 236.75h1.5M427.03 236.75h1.5M439.46 236.75h1.5M451.88 236.75h1.5M464.31 236.75h1.5M476.73 236.75h1.5M489.16 236.75h1.5M501.59 236.75h1.5M514.01 236.75h1.5M526.44 236.75h1.5M538.86 236.75h1.5M551.29 236.75h1.5M563.72 236.75h1.5M576.14 236.75h1.5M588.57 236.75h1.5M600.99 236.75h1.5M613.42 236.75h1.5M625.85 236.75h1.5M638.27 236.75h1.5M650.7 236.75h1.5M663.12 236.75h1.5M66.68 361.07h1.5M79.1 361.07h1.5M91.53 361.07h1.5M103.95 361.07h1.5M116.38 361.07h1.5M128.81 361.07h1.5M141.23 361.07h1.5M153.66 361.07h1.5M166.08 361.07h1.5M178.51 361.07h1.5M190.94 361.07h1.5M203.36 361.07h1.5M215.79 361.07h1.5M228.21 361.07h1.5M240.64 361.07h1.5M253.07 361.07h1.5M265.49 361.07h1.5M277.92 361.07h1.5M290.34 361.07h1.5M302.77 361.07h1.5M315.2 361.07h1.5M327.62 361.07h1.5M340.05 361.07h1.5M352.47 361.07h1.5M364.9 361.07h1.5M377.33 361.07h1.5M389.75 361.07h1.5M402.18 361.07h1.5M414.6 361.07h1.5M427.03 361.07h1.5M439.46 361.07h1.5M451.88 361.07h1.5M464.31 361.07h1.5M476.73 361.07h1.5M489.16 361.07h1.5M501.59 361.07h1.5M514.01 361.07h1.5M526.44 361.07h1.5M538.86 361.07h1.5M551.29 361.07h1.5M563.72 361.07h1.5M576.14 361.07h1.5M588.57 361.07h1.5M600.99 361.07h1.5M613.42 361.07h1.5M625.85 361.07h1.5M638.27 361.07h1.5M650.7 361.07h1.5M663.12 361.07h1.5M66.68 423.23h1.5M79.1 423.23h1.5M91.53 423.23h1.5M103.95 423.23h1.5M116.38 423.23h1.5M128.81 423.23h1.5M141.23 423.23h1.5M153.66 423.23h1.5M166.08 423.23h1.5M178.51 423.23h1.5M190.94 423.23h1.5M203.36 423.23h1.5M215.79 423.23h1.5M228.21 423.23h1.5M240.64 423.23h1.5M253.07 423.23h1.5M265.49 423.23h1.5M277.92 423.23h1.5M290.34 423.23h1.5M302.77 423.23h1.5M315.2 423.23h1.5M327.62 423.23h1.5M340.05 423.23h1.5M352.47 423.23h1.5M364.9 423.23h1.5M377.33 423.23h1.5M389.75 423.23h1.5M402.18 423.23h1.5M414.6 423.23h1.5M427.03 423.23h1.5M439.46 423.23h1.5M451.88 423.23h1.5M464.31 423.23h1.5M476.73 423.23h1.5M489.16 423.23h1.5M501.59 423.23h1.5M514.01 423.23h1.5M526.44 423.23h1.5M538.86 423.23h1.5M551.29 423.23h1.5M563.72 423.23h1.5M576.14 423.23h1.5M588.57 423.23h1.5M600.99 423.23h1.5M613.42 423.23h1.5M625.85 423.23h1.5M638.27 423.23h1.5M650.7 423.23h1.5M663.12 423.23h1.5M66.68 485.39h1.5M79.1 485.39h1.5M91.53 485.39h1.5M103.95 485.39h1.5M116.38 485.39h1.5M128.81 485.39h1.5M141.23 485.39h1.5M153.66 485.39h1.5M166.08 485.39h1.5M178.51 485.39h1.5M190.94 485.39h1.5M203.36 485.39h1.5M215.79 485.39h1.5M228.21 485.39h1.5M240.64 485.39h1.5M253.07 485.39h1.5M265.49 485.39h1.5M277.92 485.39h1.5M290.34 485.39h1.5M302.77 485.39h1.5M315.2 485.39h1.5M327.62 485.39h1.5M340.05 485.39h1.5M352.47 485.39h1.5M364.9 485.39h1.5M377.33 485.39h1.5M389.75 485.39h1.5M402.18 485.39h1.5M414.6 485.39h1.5M427.03 485.39h1.5M439.46 485.39h1.5M451.88 485.39h1.5M464.31 485.39h1.5M476.73 485.39h1.5M489.16 485.39h1.5M501.59 485.39h1.5M514.01 485.39h1.5M526.44 485.39h1.5M538.86 485.39h1.5M551.29 485.39h1.5M563.72 485.39h1.5M576.14 485.39h1.5M588.57 485.39h1.5M600.99 485.39h1.5M613.42 485.39h1.5M625.85 485.39h1.5M638.27 485.39h1.5M650.7 485.39h1.5M663.12 485.39h1.5" stroke="#505050" stroke-width="1.5"/>
<path d="M56.99 298.91h1M59.47 298.91h1M61.96 298.91h1M64.44 298.91h1M66.93 298.91h1M69.41 298.91h1M71.9 298.91h1M74.38 298.91h1M76.87 298.91h1M79.35 298.91h1M81.84 298.91h1M84.32 298.91h1M86.81 298.91h1M89.29 298.91h1M91.78 298.91h1M94.26 298.91h1M96.75 298.91h1M99.23 298.91h1M101.72 298.91h1M104.2 298.91h1M106.69 298.91h1M109.17 298.91h1M111.66 298.91h1M114.14 298.91h1M116.63 298.91h1M119.12 298.91h1M121.6 298.91h1M124.09 298.91h1M126.57 298.91h1M129.06 298.91h1M131.54 298.91h1M134.03 298.91h1M136.51 298.91h1M139 298.91h1M141.48 298.91h1M143.97 298.91h1M146.45 298.91h1M148.94 298.91h1M151.42 298.91h1M153.91 298.91h1M156.39 298.91h1M158.88 298.91h1M161.36 298.91h1M163.85 298.91h1M166.33 298.91h1M168.82 298.91h1M171.3 298.91h1M173.79 298.91h1M176.27 298.91h1M178.76 298.91h1M181.25 298.91h1M183.73 298.91h1M186.22 298.91h1M188.7 298.91h1M191.19 298.91h1M193.67 298.91h1M196.16 298.91h1M198.64 298.91h1M201.13 298.91h1M203.61 298.91h1M206.1 298.91h1M208.58 298.91h1M211.07 298.91h1M213.55 298.91h1M216.04 298.91h1M218.52 298.91h1M221.01 298.91h1M223.49 298.91h1M225.98 298.91h1M228.46 298.91h1M230.95 298.91h1M233.43 298.91h1M235.92 298.91h1M238.4 298.91h1M240.89 298.91h1M243.38 298.91h1M245.86 298.91h1M248.35 298.91h1M250.83 298.91h1M253.32 298.91h1M255.8 298.91h1M258.29 298.91h1M260.77 298.91h1M263.26 298.91h1M265.74 298.91h1M268.23 298.91h1M270.71 298.91h1M273.2 298.91h1M275.68 298.91h1M278.17 298.91h1M280.65 298.91h1M283.14 298.91h1M285.62 298.91h1M288.11 298.91h1M290.59 298.91h1M293.08 298.91h1M295.56 298.91h1M298.05 298.91h1M300.53 298.91h1M303.02 298.91h1M305.51 298.91h1M307.99 298.91h1M310.48 298.91h1M312.96 298.91h1M315.45 298.91h1M317.93 298.91h1M320.42 298.91h1M322.9 298.91h1M325.39 298.91h1M327.87 298.91h1M330.36 298.91h1M332.84 298.91h1M335.33 298.91h1M337.81 298.91h1M340.3 298.91h1M342.78 298.91h1M345.27 298.91h1M347.75 298.91h1M350.24 298.91h1M352.72 298.91h1M355.21 298.91h1M357.69 298.91h1M360.18 298.91h1M362.66 298.91h1M365.15 298.91h1M367.64 298.91h1M370.12 298.91h1M372.61 298.91h1M375.09 298.91h1M377.58 298.91h1M380.06 298.91h1M382.55 298.91h1M385.03 298.91h1M387.52 298.91h1M390 298.91h1M392.49 298.91h1M394.97 298.91h1M397.46 298.91h1M399.94 298.91h1M402.43 298.91h1M404.91 298.91h1M407.4 298.91h1M409.88 298.91h1M412.37 298.91h1M414.85 298.91h1M417.34 298.91h1M419.82 298.91h1M422.31 298.91h1M424.79 298.91h1M427.28 298.91h1M429.77 298.91h1M432.25 298.91h1M434.74 298.91h1M437.22 298.91h1M439.71 298.91h1M442.19 298.91h1M444.68 298.91h1M447.16 298.91h1M449.65 298.91h1M452.13 298.91h1M454.62 298.91h1M457.1 298.91h1M459.59 298.91h1M462.07 298.91h1M464.56 298.91h1M467.04 298.91h1M469.53 298.91h1M472.01 298.91h1M474.5 298.91h1M476.98 298.91h1M479.47 298.91h1M481.95 298.91h1M484.44 298.91h1M486.92 298.91h1M489.41 298.91h1M491.9 298.91h1M494.38 298.91h1M496.87 298.91h1M499.35 298.91h1M501.84 298.91h1M504.32 298.91h1M506.81 298.91h1M509.29 298.91h1M511.78 298.91h1M514.26 298.91h1M516.75 298.91h1M519.23 298.91h1M521.72 298.91h1M524.2 298.91h1M526.69 298.91h1M529.17 298.91h1M531.66 298.91h1M534.14 298.91h1M536.63 298.91h1M539.11 298.91h1M541.6 298.91h1M544.08 298.91h1M546.57 298.91h1M549.05 298.91h1M551.54 298.91h1M554.03 298.91h1M556.51 298.91h1M559 298.91h1M561.48 298.91h1M563.97 298.91h1M566.45 298.91h1M568.94 298.91h1M571.42 298.91h1M573.91 298.91h1M576.39 298.91h1M578.88 298.91h1M581.36 298.91h1M583.85 298.91h1M586.33 298.91h1M588.82 298.91h1M591.3 298.91h1M593.79 298.91h1M596.27 298.91h1M598.76 298.91h1M601.24 298.91h1M603.73 298.91h1M606.21 298.91h1M608.7 298.91h1M611.18 298.91h1M613.67 298.91h1M616.16 298.91h1M618.64 298.91h1M621.13 298.91h1M623.61 298.91h1M626.1 298.91h1M628.58 298.91h1M631.07 298.91h1M633.55 298.91h1M636.04 298.91h1M638.52 298.91h1M641.01 298.91h1M643.49 298.91h1M645.98 298.91h1M648.46 298.91h1M650.95 298.91h1M653.43 298.91h1M655.92 298.91h1M658.4 298.91h1M660.89 298.91h1M663.37 298.91h1M665.86 298.91h1M668.34 298.91h1M670.83 298.91h1M673.31 298.91h1M365.15 52.76h1M365.15 55.24h1M365.15 57.73h1M365.15 60.22h1M365.15 62.7h1M365.15 65.19h1M365.15 67.67h1M365.15 70.16h1M365.15 72.65h1M365.15 75.13h1M365.15 77.62h1M365.15 80.11h1M365.15 82.59h1M365.15 85.08h1M365.15 87.57h1M365.15 90.05h1M365.15 92.54h1M365.15 95.03h1M365.15 97.51h1M365.15 100h1M365.15 102.48h1M365.15 104.97h1M365.15 107.46h1M365.15 109.94h1M365.15 112.43h1M365.15 114.92h1M365.15 117.4h1M365.15 119.89h1M365.15 122.38h1M365.15 124.86h1M365.15 127.35h1M365.15 129.83h1M365.15 132.32h1M365.15 134.81h1M365.15 137.29h1M365.15 139.78h1M365.15 142.27h1M365.15 144.75h1M365.15 147.24h1M365.15 149.73h1M365.15 152.21h1M365.15 154.7h1M365.15 157.19h1M365.15 159.67h1M365.15 162.16h1M365.15 164.64h1M365.15 167.13h1M365.15 169.62h1M365.15 172.1h1M365.15 174.59h1M365.15 177.08h1M365.15 179.56h1M365.15 182.05h1M365.15 184.54h1M365.15 187.02h1M365.15 189.51h1M365.15 191.99h1M365.15 194.48h1M365.15 196.97h1M365.15 199.45h1M365.15 201.94h1M365.15 204.43h1M365.15 206.91h1M365.15 209.4h1M365.15 211.89h1M365.15 214.37h1M365.15 216.86h1M365.15 219.35h1M365.15 221.83h1M365.15 224.32h1M365.15 226.8h1M365.15 229.29h1M365.15 231.78h1M365.15 234.26h1M365.15 236.75h1M365.15 239.24h1M365.15 241.72h1M365.15 244.21h1M365.15 246.7h1M365.15 249.18h1M365.15 251.67h1M365.15 254.15h1M365.15 256.64h1M365.15 259.13h1M365.15 261.61h1M365.15 264.1h1M365.15 266.59h1M365.15 269.07h1M365.15 271.56h1M365.15 274.05h1M365.15 276.53h1M365.15 279.02h1M365.15 281.51h1M365.15 283.99h1M365.15 286.48h1M365.15 288.96h1M365.15 291.45h1M365.15 293.94h1M365.15 296.42h1M365.15 298.91h1M365.15 301.4h1M365.15 303.88h1M365.15 306.37h1M365.15 308.86h1M365.15 311.34h1M365.15 313.83h1M365.15 316.31h1M365.15 318.8h1M365.15 321.29h1M365.15 323.77h1M365.15 326.26h1M365.15 328.75h1M365.15 331.23h1M365.15 333.72h1M365.15 336.21h1M365.15 338.69h1M365.15 341.18h1M365.15 343.67h1M365.15 346.15h1M365.15 348.64h1M365.15 351.12h1M365.15 353.61h1M365.15 356.1h1M365.15 358.58h1M365.15 361.07h1M365.15 363.56h1M365.15 366.04h1M365.15 368.53h1M365.15 371.02h1M365.15 373.5h1M365.15 375.99h1M365.15 378.47h1M365.15 380.96h1M365.15 383.45h1M365.15 385.93h1M365.15 388.42h1M365.15 390.91h1M365.15 393.39h1M365.15 395.88h1M365.15 398.37h1M365.15 400.85h1M365.15 403.34h1M365.15 405.83h1M365.15 408.31h1M365.15 410.8h1M365.15 413.28h1M365.15 415.77h1M365.15 418.26h1M365.15 420.74h1M365.15 423.23h1M365.15 425.72h1M365.15 428.2h1M365.15 430.69h1M365.15 433.18h1M365.15 435.66h1M365.15 438.15h1M365.15 440.63h1M365.15 443.12h1M365.15 445.61h1M365.15 448.09h1M365.15 450.58h1M365.15 453.07h1M365.15 455.55h1M365.15 458.04h1M365.15 460.53h1M365.15 463.01h1M365.15 465.5h1M365.15 467.99h1M365.15 470.47h1M365.15 472.96h1M365.15 475.44h1M365.15 477.93h1M365.15 480.42h1M365.15 482.9h1M365.15 485.39h1M365.15 487.88h1M365.15 490.36h1M365.15 492.85h1M365.15 495.34h1M365.15 497.82h1M365.15 500.31h1M365.15 502.79h1M365.15 505.28h1M365.15 507.77h1M365.15 510.25h1M365.15 512.74h1M365.15 515.23h1M365.15 517.71h1M365.15 520.2h1M365.15 522.69h1M365.15 525.17h1M365.15 527.66h1M365.15 530.15h1M365.15 532.63h1M365.15 535.12h1M365.15 537.6h1M365.15 540.09h1M365.15 542.58h1M365.15 545.06h1" stroke="#3a3a3a" stroke-width="1.1"/>
<path d="M67.43 294.61V303.21M79.85 294.61V303.21M92.28 294.61V303.21M104.7 294.61V303.21M117.13 294.61V303.21M129.56 294.61V303.21M141.98 294.61V303.21M154.41 294.61V303.21M166.83 294.61V303.21M179.26 294.61V303.21M191.69 294.61V303.21M204.11 294.61V303.21M216.54 294.61V303.21M228.96 294.61V303.21M241.39 294.61V303.21M253.82 294.61V303.21M266.24 294.61V303.21M278.67 294.61V303.21M291.09 294.61V303.21M303.52 294.61V303.21M315.95 294.61V303.21M328.37 294.61V303.21M340.8 294.61V303.21M353.22 294.61V303.21M365.65 294.61V303.21M378.08 294.61V303.21M390.5 294.61V303.21M402.93 294.61V303.21M415.35 294.61V303.21M427.78 294.61V303.21M440.21 294.61V303.21M452.63 294.61V303.21M465.06 294.61V303.21M477.48 294.61V303.21M489.91 294.61V303.21M502.34 294.61V303.21M514.76 294.61V303.21M527.19 294.61V303.21M539.61 294.61V303.21M552.04 294.61V303.21M564.47 294.61V303.21M576.89 294.61V303.21M589.32 294.61V303.21M601.74 294.61V303.21M614.17 294.61V303.21M626.6 294.61V303.21M639.02 294.61V303.21M651.45 294.61V303.21M663.87 294.61V303.21M361.35 62.7H369.95M361.35 75.13H369.95M361.35 87.57H369.95M361.35 100H369.95M361.35 112.43H369.95M361.35 124.86H369.95M361.35 137.29H369.95M361.35 149.73H369.95M361.35 162.16H369.95M361.35 174.59H369.95M361.35 187.02H369.95M361.35 199.45H369.95M361.35 211.89H369.95M361.35 224.32H369.95M361.35 236.75H369.95M361.35 249.18H369.95M361.35 261.61H369.95M361.35 274.05H369.95M361.35 286.48H369.95M361.35 298.91H369.95M361.35 311.34H369.95M361.35 323.77H369.95M361.35 336.21H369.95M361.35 348.64H369.95M361.35 361.07H369.95M361.35 373.5H369.95M361.35 385.93H369.95M361.35 398.37H369.95M361.35 410.8H369.95M361.35 423.23H369.95M361.35 435.66H369.95M361.35 448.09H369.95M361.35 460.53H369.95M361.35 472.96H369.95M361.35 485.39H369.95M361.35 497.82H369.95M361.35 510.25H369.95M361.35 522.69H369.95M361.35 535.12H369.95" stroke="#3a3a3a" stroke-width="1.2" stroke-dasharray="1.4 1.5"/>
<path d="M55.2 333.5 59.6 323.4 59.6 523 61.11 520.69 62.61 516.68 64.12 513.97 65.63 511.04 67.13 507.3 68.64 504.22 70.14 501.08 71.65 497.79 73.16 494.03 74.66 490.95 75.87 488.07 76.17 483.74 76.52 488.52 77.38 485.41 77.68 488.71 78.03 485.04 79.18 481.91 80.69 479.2 81.9 475.56 82.2 478.57 82.55 475.78 83.7 472.82 85.21 469.39 86.41 466.75 86.71 463.11 87.06 466.3 88.22 463.73 89.73 460.02 90.93 457.46 91.23 453.63 91.58 457.29 92.74 453.92 94.25 451.5 95.75 447.41 97.26 444.22 98.77 440.81 99.97 437.32 100.27 433.68 100.62 437.69 101.78 434.89 103.28 431.78 104.49 428.55 104.79 425.36 105.14 428.69 106 425.52 106.3 429.09 106.65 425.91 107.5 422.76 107.8 417.99 108.15 422.27 109.31 419.84 110.82 416.06 112.02 412.67 112.32 410.38 112.67 412.6 113.53 410.12 113.83 412.55 114.18 409.86 115.03 406.52 115.33 410.49 115.68 406.61 116.84 402.97 118.35 400.3 119.85 397.04 121.36 394.42 122.87 391.02 124.37 388.38 125.88 383.76 127.09 381.93 127.39 379.66 127.74 382.42 128.59 378.33 128.89 383.01 129.24 378.7 130.1 375.14 130.4 372.71 130.75 375.34 131.9 371.14 133.41 369.02 134.92 365.68 136.42 362.47 137.93 359.07 139.44 356.41 140.94 353.63 142.15 350.04 142.45 353.05 142.8 350.37 143.96 346.47 145.16 343.44 145.46 348.16 145.81 343 146.97 340.05 148.47 337.96 149.98 335.36 151.49 331.8 152.69 328.47 152.99 325.4 153.34 328.71 154.5 324.8 154.5 523 156 519.73 157.5 517.22 159 513.27 160.51 510.36 161.71 507.3 162.01 502.96 162.36 507.66 163.51 503.96 165.01 500.37 166.51 496.86 168.01 494.77 169.22 490.79 169.52 493.89 169.87 490.77 170.72 487.13 171.02 483.61 171.37 487.34 172.52 483.46 173.72 481.61 174.02 478.37 174.37 481.69 175.52 479.49 177.02 474.66 178.53 471.31 180.03 468.83 181.53 465.57 183.03 462.78 184.23 458.78 184.53 455.53 184.88 458.41 185.73 455.33 186.03 453.1 186.38 454.95 187.54 452.13 188.74 449.88 189.04 447.52 189.39 449.58 190.54 446.77 191.74 443.96 192.04 441.63 192.39 444.28 193.54 440.11 195.04 437.25 196.55 434.23 197.75 430.9 198.05 428.46 198.4 431.27 199.55 427.37 201.05 423.89 202.55 420.86 203.75 417.56 204.05 413.96 204.4 417.18 205.55 415.42 207.06 412.06 208.56 408.24 210.06 404.79 211.56 401.78 213.06 398.36 214.56 394.86 216.07 392.47 217.27 388.72 217.57 384.6 217.92 388.7 219.07 385.35 220.57 382.74 221.77 379.3 222.07 376.14 222.42 379.21 223.57 375.76 225.08 373.28 226.58 370.66 228.08 366.43 229.28 364.45 229.58 368.34 229.93 364.12 230.78 360.3 231.08 363.59 231.43 360.63 232.58 357.19 234.09 353.63 235.59 350.34 237.09 347.46 238.59 344.36 240.09 340.83 241.29 337.95 241.59 342.41 241.94 338.35 243.1 333.49 244.6 331.09 246.1 327.97 247.6 324.8 247.6 523 248.8 519.74 249.1 516.1 249.45 520.11 250.6 517.82 251.8 513.36 252.1 516.32 252.45 513.39 253.6 510.33 254.8 507.23 255.1 511.48 255.45 506.85 256.6 503.63 258.1 500.35 259.3 498.21 259.6 494.01 259.95 498 260.8 494.79 261.1 491.46 261.45 495.1 262.6 490.86 263.8 487.05 264.1 491.13 264.45 487.29 265.6 484.92 267.1 480.95 268.6 478.01 270.1 474.38 271.6 471.93 272.8 468.89 273.1 465.92 273.45 468.48 274.6 465.05 276.1 461.79 277.6 458.34 279.1 455.1 280.6 452.21 282.1 448.87 283.6 445.63 285.1 442.66 286.3 438.92 286.6 441.43 286.95 438.8 288.1 436.18 289.3 432.76 289.6 430.19 289.95 432.88 291.1 429.92 292.6 426.27 293.8 422.87 294.1 425.48 294.45 423.01 295.6 419.98 296.8 417.02 297.1 414.45 297.45 417.36 298.6 413.69 300.1 409.42 301.3 407.1 301.6 411.55 301.95 407.13 303.1 403.12 304.6 400.29 306.1 396.84 307.6 394.11 309.1 390.09 310.3 388.85 310.6 385.12 310.95 388.42 311.8 384.1 312.1 380.66 312.45 384.37 313.6 381.47 315.1 377.68 316.6 374.11 318.1 371.56 319.3 368.76 319.6 371.75 319.95 369.17 320.8 364.3 321.1 362.1 321.45 364.53 322.6 361.3 324.1 358.88 325.6 355.82 327.1 351.58 328.6 348.22 329.8 344.17 330.1 346.84 330.45 343.67 331.6 341.77 333.1 339.87 334.6 335.34 335.8 332.84 336.1 330.42 336.45 332.95 337.6 330.18 339.1 325.87 340.6 322.8 340.6 523 341.81 520.86 342.11 516.45 342.46 521.06 343.62 517.69 345.13 513.43 346.64 510.48 348.15 506.09 349.66 503.28 351.17 500.87 352.68 496.57 354.19 493.95 355.4 490.58 355.7 492.84 356.05 490.77 357.21 487.45 358.72 483.7 359.93 480.95 360.23 478.24 360.58 480.84 361.74 478.03 362.95 474.78 363.25 471.84 363.6 474.87 364.75 470.24 366.26 468.08 367.77 465.44 368.98 460.84 369.28 457.11 369.63 460.71 370.49 459.12 370.79 462.67 371.14 459.49 372 455.3 372.3 452.64 372.65 455.17 373.81 451.79 375.02 448.44 375.32 444.39 375.67 448.67 376.53 445.06 376.83 441.05 377.18 444.83 378.34 441.84 379.85 438.57 381.36 434.87 382.87 432.14 384.08 428.64 384.38 424.72 384.73 428.67 385.89 425.59 387.4 423.14 388.61 419.57 388.91 416.82 389.26 420.03 390.42 416.09 391.93 413.12 393.14 409.18 393.44 404.6 393.79 409.32 394.95 406 396.46 403.01 397.67 399.86 397.97 395.92 398.32 399.8 399.18 396.7 399.48 394.25 399.83 396.83 400.99 393.53 402.2 390.24 402.5 386.3 402.85 390.44 404.01 386.68 405.52 383.61 407.03 379.78 408.24 377.17 408.54 372.67 408.89 377.02 409.75 373.21 410.05 376.35 410.4 373.46 411.25 370.89 411.55 374.12 411.9 371.07 413.06 366.05 414.27 364.29 414.57 360.5 414.92 364.38 416.08 360.87 417.29 357.81 417.59 360.9 417.94 357.41 418.8 353.88 419.1 349.67 419.45 353.51 420.61 350.78 421.82 347.6 422.12 344.8 422.47 347.49 423.63 344.62 424.84 340.87 425.14 344.15 425.49 341.22 426.65 337.95 428.16 334.79 429.67 331.73 431.18 327.9 432.39 324.53 432.69 321.49 433.04 324.2 434.2 321.8 434.2 523 435.7 518.45 437.2 515.06 438.7 511.91 439.9 507.71 440.2 505.01 440.55 507.29 441.7 504.45 442.9 501.24 443.2 504.36 443.55 501.52 444.7 495.95 446.2 493.22 447.7 489.44 449.2 484.21 450.4 481.96 450.7 477.88 451.05 482.25 452.2 478.39 453.7 473.34 455.2 470.07 456.7 466.39 458.2 462.58 459.7 458.92 461.2 454.27 462.7 451.16 464.2 446.56 465.4 443.11 465.7 447.09 466.05 443.44 466.9 438.37 467.2 434.17 467.55 438.08 468.4 435.64 468.7 433.33 469.05 435.42 470.2 432.24 471.4 427.61 471.7 423.23 472.05 427.3 473.2 424.04 474.7 420.94 476.2 416.34 477.7 412.38 479.2 408.67 480.7 404.32 481.9 401.49 482.2 406.14 482.55 401.02 483.7 397.35 484.9 393.62 485.2 397.98 485.55 394 486.7 390.1 488.2 386.49 489.7 381.94 491.2 378.6 492.7 374.61 494.2 370.75 495.4 367.65 495.7 363.81 496.05 367.4 497.2 363.2 498.4 358.94 498.7 363.33 499.05 358.93 499.9 355.04 500.2 357.72 500.55 354.9 501.7 352.48 503.2 347.92 504.7 343.97 505.9 340 506.2 336.67 506.55 339.94 507.4 336.97 507.7 341.7 508.05 337.13 508.9 332.55 509.2 327.9 509.55 333.01 510.7 328.73 512.2 325.77 513.7 321.6 513.7 523 515.21 519.12 516.41 516.47 516.71 512.88 517.06 516.4 517.92 514.03 518.22 509.57 518.57 514.13 519.73 511.43 520.94 508.85 521.24 504.07 521.59 508.86 522.74 505.92 523.95 502.57 524.25 498.82 524.6 502.93 525.76 499.83 527.26 496.87 528.47 494.76 528.77 499.28 529.12 495.21 529.98 490.99 530.28 493.44 530.63 491.06 531.79 489.07 533.29 485.22 534.5 483.4 534.8 486.92 535.15 483.59 536.31 479.91 537.81 476.99 539.32 474.06 540.53 471.61 540.83 469.01 541.18 471.54 542.04 468.76 542.34 464.92 542.69 468.47 543.84 465.39 545.35 461.73 546.86 460.06 548.36 456.37 549.87 454.11 551.08 451.27 551.38 454.06 551.73 450.99 552.89 447.55 554.09 444.95 554.39 442.44 554.74 444.7 555.6 442.39 555.9 445.31 556.25 442.79 557.41 439.62 558.91 436.54 560.42 434.07 561.93 430.55 563.44 428.69 564.94 424.95 566.45 422.48 567.96 419.03 569.46 417.46 570.97 413.55 572.18 409.98 572.48 405.76 572.83 410.06 573.69 408.29 573.99 405.27 574.34 407.98 575.49 404.8 577 401.88 578.51 399.57 579.71 396.48 580.01 400.62 580.36 396.69 581.52 393.99 583.03 390.48 584.24 387.57 584.54 384.87 584.89 387.17 586.04 384.76 587.55 381.99 589.06 378.91 590.56 375.58 592.07 373.84 593.58 369.77 595.09 367.58 596.59 364.44 598.1 361.8 599.61 358.22 601.11 356.01 602.62 353.08 603.83 349.55 604.13 352.51 604.48 349.87 605.64 347.39 607.14 345.27 608.65 342.65 610.16 338.76 611.66 335.66 613.17 333.5 614.68 330.33 616.19 327.06 617.69 324.35 619.2 321.6 619.2 523 620.74 518.97 622.28 514.98 623.81 511.58 625.35 508.43 626.89 504.17 628.43 500.37 629.96 497.08 631.2 493.32 631.5 496.46 631.85 493.29 633.04 488.73 634.58 485.01 636.12 481.7 637.35 477.31 637.65 479.99 638 477.42 638.89 473.72 639.19 470.74 639.54 473.69 640.73 470.69 642.27 466.23 643.81 462.8 645.34 459.18 646.88 454.83 648.12 451.26 648.42 454.39 648.77 451.28 649.66 447.57 649.96 442.96 650.31 447.19 651.19 443.56 651.49 439.51 651.84 443.69 653.03 439.91 654.57 436.31 656.11 432.89 657.35 428.81 657.65 433.43 658 428.65 659.18 425.18 660.72 421.09 662.26 417.91 663.5 413.8 663.8 409.18 664.15 413.95 665.34 410.17 666.87 405.36 668.41 401 669.95 398.77 671.49 394.65 673.02 390.83 674.56 387.33 676.1 383.6" stroke="#3434ea" stroke-width="1.55" fill="none" stroke-linejoin="round"/>
<path d="M358.3 48.9H372.7L365.5 56.3Z" fill="#e3202a"/>
<path d="M27.5 325.9H42.4L53.3 335.9L42.4 346.6H27.5Z" fill="#990a99"/>
<text x="32" y="343.1" font-family="'DejaVu Sans', 'Liberation Sans', sans-serif" font-size="19" font-weight="normal" fill="#fff" stroke="#fff" stroke-width="0.3">2</text>
<path d="M28 351.7H42.8L52.6 361.2L42.8 371H28Z" fill="#fff" stroke="#14ecf0" stroke-width="1.6"/>
<text x="30.6" y="367.4" font-family="'DejaVu Sans', 'Liberation Sans', sans-serif" font-size="19" font-weight="normal" fill="#14ecf0" stroke="#14ecf0" stroke-width="0.6">1</text>
<path d="M28 425.9H43L52.6 435.6L43 445.3H28Z" fill="#fff" stroke="#16168e" stroke-width="1.6"/>
<text x="32" y="442.5" font-family="'DejaVu Sans', 'Liberation Sans', sans-serif" font-size="19" font-weight="normal" fill="#16168e" stroke="#16168e" stroke-width="0.6">2</text>
<rect x="91.4" y="552.7" width="121.2" height="20.6" fill="#fff" stroke="#a4a4a4" stroke-width="1.7"/>
<rect x="91.4" y="576.9" width="121.2" height="20.4" fill="#fff" stroke="#a4a4a4" stroke-width="1.7"/>
<rect x="255.3" y="552.7" width="121.2" height="20.6" fill="#fff" stroke="#a4a4a4" stroke-width="1.7"/>
<rect x="396.9" y="552.7" width="74.6" height="20.6" fill="#fff" stroke="#a4a4a4" stroke-width="1.7"/>
<rect x="505.4" y="552.7" width="173" height="22.3" fill="#fff" stroke="#a4a4a4" stroke-width="1.7"/>
<rect x="214.8" y="553.2" width="38.4" height="19.7" fill="#990a99"/>
<text x="50.7" y="569.2" font-family="'DejaVu Sans', 'Liberation Sans', sans-serif" font-size="19" font-weight="normal" fill="#14ecf0" stroke="#14ecf0" stroke-width="0.6" letter-spacing="-0.25">Ch1</text>
<text x="112.7" y="569.3" font-family="'DejaVu Sans', 'Liberation Sans', sans-serif" font-size="19" font-weight="normal" fill="#14ecf0" stroke="#14ecf0" stroke-width="0.6" letter-spacing="0.3">2.00 V</text>
<text x="50.6" y="592.4" font-family="'DejaVu Sans', 'Liberation Sans', sans-serif" font-size="19" font-weight="normal" fill="#16168e" stroke="#16168e" stroke-width="0.6" letter-spacing="1.0">Ch3</text>
<text x="112.7" y="592.4" font-family="'DejaVu Sans', 'Liberation Sans', sans-serif" font-size="19" font-weight="normal" fill="#16168e" stroke="#16168e" stroke-width="0.6" letter-spacing="0.3">2.00 V</text>
<text x="215" y="568.8" font-family="'DejaVu Sans', 'Liberation Sans', sans-serif" font-size="19" font-weight="normal" fill="#fff" stroke="#fff" stroke-width="0.15" letter-spacing="0.4">Ch2</text>
<text x="275.7" y="569.2" font-family="'DejaVu Sans', 'Liberation Sans', sans-serif" font-size="19" font-weight="normal" fill="#990a99" stroke="#990a99" stroke-width="0.6" letter-spacing="0.62">2.00 V</text>
<text x="378.6" y="569" font-family="'DejaVu Sans', 'Liberation Sans', sans-serif" font-size="19" font-weight="normal" fill="#000" stroke="#000" stroke-width="0.6">M</text>
<text x="402.5" y="569" font-family="'DejaVu Sans', 'Liberation Sans', sans-serif" font-size="19" font-weight="normal" fill="#000" stroke="#000" stroke-width="0.6" letter-spacing="-1.36">20.0ms</text>
<text x="490" y="569" font-family="'DejaVu Sans', 'Liberation Sans', sans-serif" font-size="19" font-weight="normal" fill="#000" stroke="#000" stroke-width="0.6">A</text>
<text x="520" y="569.1" font-family="'DejaVu Sans', 'Liberation Sans', sans-serif" font-size="19" font-weight="normal" fill="#990a99" stroke="#990a99" stroke-width="0.6" letter-spacing="0.95">Ch3</text>
<text x="589.5" y="568" font-family="'DejaVu Sans', 'Liberation Sans', sans-serif" font-size="19" font-weight="normal" fill="#000" stroke="#000" stroke-width="0.1" textLength="11.5" lengthAdjust="spacingAndGlyphs">–</text>
<text x="611" y="569.1" font-family="'DejaVu Sans', 'Liberation Sans', sans-serif" font-size="19" font-weight="normal" fill="#000" stroke="#000" stroke-width="0.6" textLength="29.3" lengthAdjust="spacingAndGlyphs">12.0</text>
<text x="657.5" y="569.1" font-family="'DejaVu Sans', 'Liberation Sans', sans-serif" font-size="19" font-weight="normal" fill="#000" stroke="#000" stroke-width="0.6">V</text>
<path d="M572.8 568.2H577.4C579.3 568.2 579.4 566.5 579.9 563.2C580.4 559.4 580.9 557.2 583.2 557.2H586.6" stroke="#000" stroke-width="2.1" fill="none"/>
</g>
</g>
<path d="M492.8 94.5V47" stroke="#3f71c7" stroke-width="3.8" fill="none"/>
<path d="M492.8 33L505.2 57.2L492.8 49L480.4 57.2Z" fill="#3f71c7"/>
<path d="M490.9 92.6H541.5" stroke="#3f71c7" stroke-width="3.8" fill="none"/>
<path d="M555.5 92.6L531.3 80.6L539.5 92.6L531.3 104.6Z" fill="#3f71c7"/>
<text x="432.5" y="96.7" font-family="'Liberation Serif', 'Times New Roman', serif" font-size="16.8" font-weight="bold" fill="#000" letter-spacing="0.16">0.2 Wb</text>
<text x="492.4" y="119.2" font-family="'Liberation Serif', 'Times New Roman', serif" font-size="16.8" font-weight="bold" fill="#000" letter-spacing="-0.55">20 ms</text>
<path d="M1201 97.1V49.8" stroke="#3f71c7" stroke-width="3.8" fill="none"/>
<path d="M1201 35.8L1213.4 60L1201 51.8L1188.6 60Z" fill="#3f71c7"/>
<path d="M1199.1 95.2H1249" stroke="#3f71c7" stroke-width="3.8" fill="none"/>
<path d="M1263 95.2L1238.8 83.2L1247 95.2L1238.8 107.2Z" fill="#3f71c7"/>
<text x="1140.3" y="99.3" font-family="'Liberation Serif', 'Times New Roman', serif" font-size="16.8" font-weight="bold" fill="#000" letter-spacing="0.12">0.2 Wb</text>
<text x="1200" y="121.3" font-family="'Liberation Serif', 'Times New Roman', serif" font-size="16.8" font-weight="bold" fill="#000" letter-spacing="-0.4">20 ms</text>
<g fill="#000">
<rect x="3" y="3" width="1418" height="2"/>
<rect x="3" y="685" width="1418" height="2"/>
<rect x="3" y="3" width="2" height="684"/>
<rect x="1419" y="3" width="2" height="684"/>
<rect x="710.6" y="3" width="2" height="684"/>
<rect x="3" y="615" width="1418" height="2"/>
</g>
<text x="294.7" y="666" font-family="'Liberation Serif', 'Times New Roman', serif" font-size="42" font-weight="normal" fill="#000" letter-spacing="-0.08">a) DTC</text>
<text x="940.4" y="666" font-family="'Liberation Serif', 'Times New Roman', serif" font-size="42" font-weight="normal" fill="#000" letter-spacing="-0.117">b) Neural DTC</text>
</svg>
</body></html>
